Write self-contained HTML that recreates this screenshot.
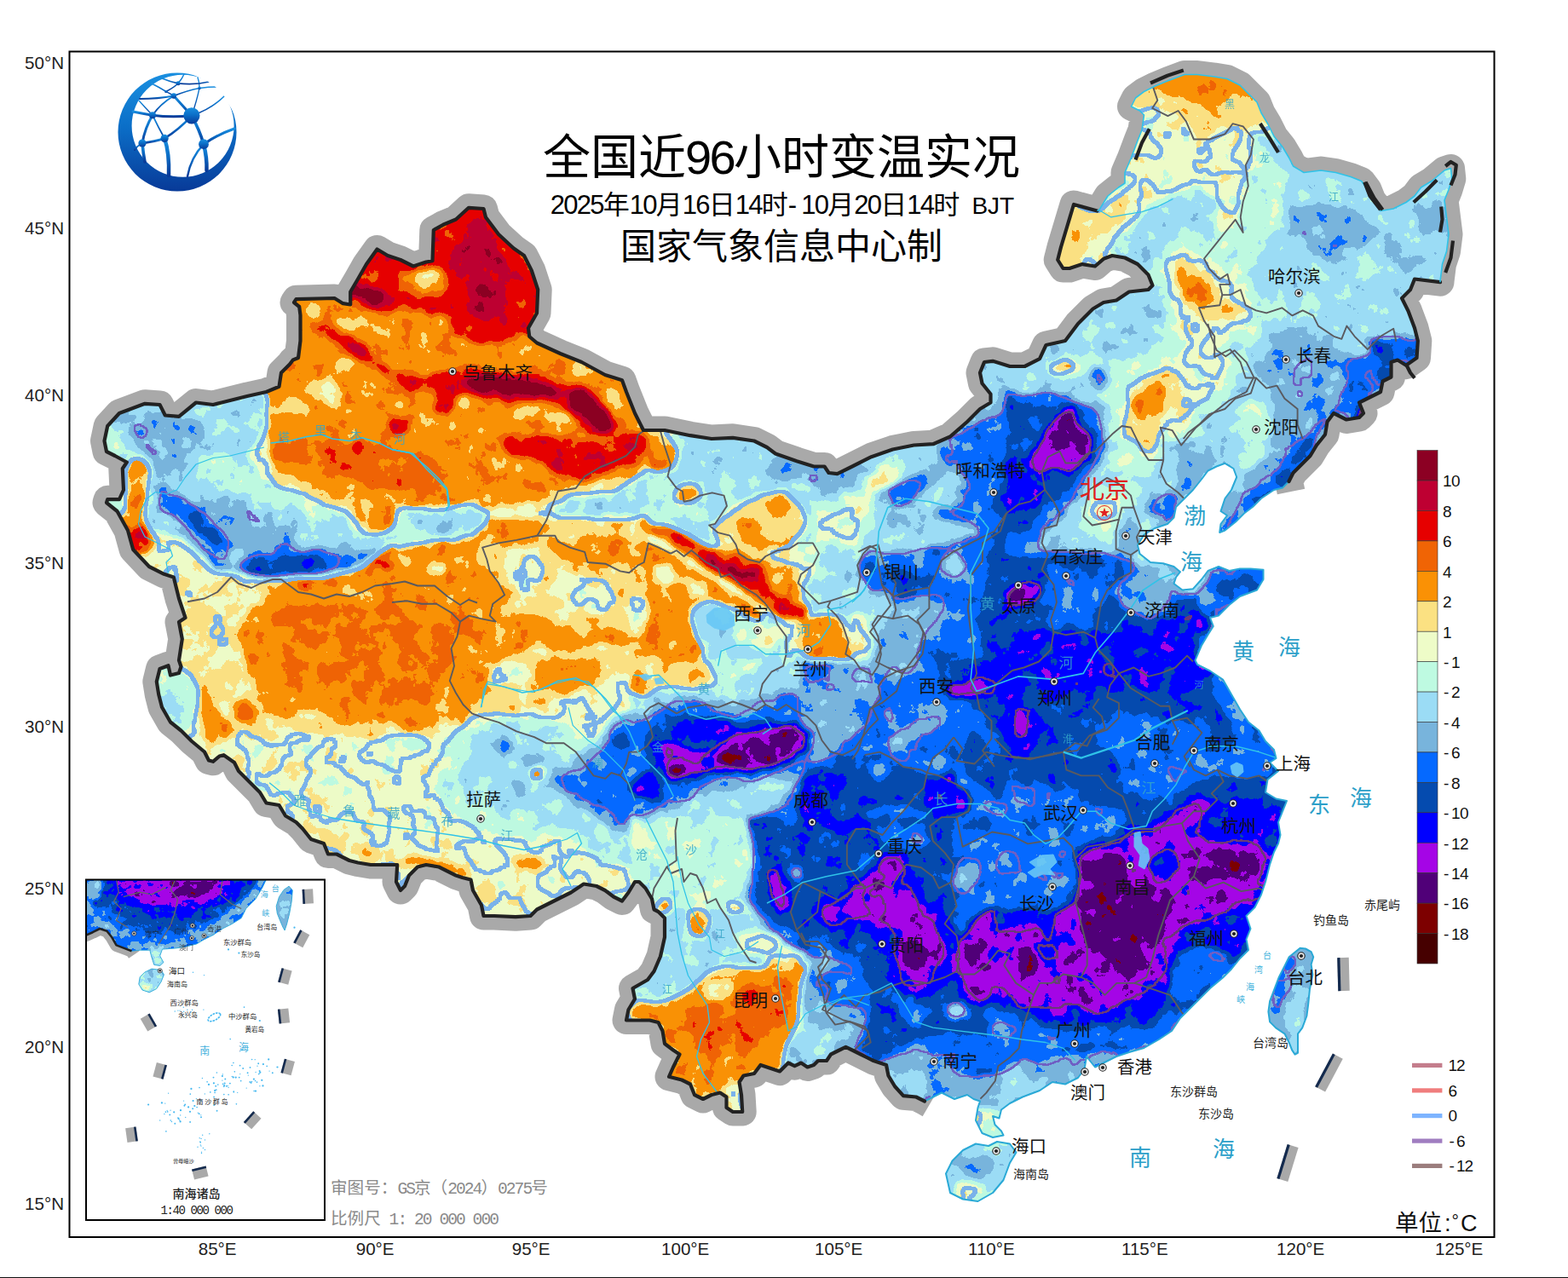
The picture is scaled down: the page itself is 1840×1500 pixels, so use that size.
<!DOCTYPE html><html><head><meta charset="utf-8"><title>map</title><style>html,body{margin:0;padding:0;background:#fff}body{width:1840px;height:1500px;overflow:hidden;font-family:"Liberation Sans","Noto Sans CJK SC",sans-serif}svg{display:block}text{font-family:"Liberation Sans","Noto Sans CJK SC",sans-serif}text.mono{font-family:"Liberation Mono","Noto Sans CJK SC",monospace}</style></head><body><svg width="1840" height="1500" viewBox="0 0 1840 1500"><defs><g id="fp" fill="currentColor" stroke="currentColor" stroke-linejoin="round"><polygon points="540,840 590,845 640,840 690,820 740,815 765,810 815,810 865,795 890,780 915,760 920,730 910,715 1000,705 1000,995 540,995" color="#808080"/><polygon points="540,620 1000,620 1000,705 910,715 920,730 915,760 890,780 865,795 815,810 765,810 740,815 690,820 640,840 590,845 540,840" color="#acacac"/><polygon points="590,645 630,640 640,670 635,705 615,700 595,670" color="#9e9e9e"/><polygon points="645,680 680,670 715,685 730,710 700,725 665,715 645,700" color="#9e9e9e"/><polygon points="735,695 765,700 770,725 745,735 735,720" color="#9e9e9e"/><polygon points="815,705 865,700 905,720 915,750 890,775 865,790 840,805 830,770 815,740" color="#8e8e8e"/><polygon points="575,760 615,770 645,780 635,795 600,790 575,780" color="#9e9e9e"/><polygon points="680,645 715,640 740,655 715,665 680,660" color="#9e9e9e"/><polygon points="540,620 630,620 665,635 715,630 760,635 780,655 765,670 740,660 700,670 665,655 640,640 590,640 540,645" color="#bcbcbc"/><polygon points="540,655 565,660 585,685 575,720 540,730" color="#bcbcbc"/><polygon points="540,730 575,725 615,720 650,730 690,745 730,750 765,745 805,750 815,770 790,780 755,770 715,775 680,765 640,755 600,750 565,760 540,760" color="#bcbcbc"/><polygon points="540,795 565,785 600,800 640,805 680,800 700,810 680,820 640,820 600,815 565,815 540,820" color="#bcbcbc"/><polygon points="725,790 755,790 770,810 755,820 735,810" color="#bcbcbc"/><polygon points="780,635 815,640 840,670 865,690 850,695 815,675 790,660" color="#bcbcbc"/><polygon points="680,750 715,745 730,760 700,767.5" color="#cacaca"/><polygon points="775,620 815,620 840,640 870,650 895,665 915,690 940,710 950,725 940,730 915,720 890,700 865,685 840,670 815,650 790,635" color="#cacaca"/><polygon points="785,625 810,630 835,650 865,660 890,670 900,690 930,715 920,720 895,700 870,685 840,665 815,645 790,632.5" color="#dadada"/><polygon points="825,647.5 850,660 875,667.5 890,675 885,685 860,680 835,662.5" color="#f8f8f8"/><polygon points="895,645 930,640 955,645 960,670 940,695 915,685 900,665" color="#9e9e9e"/><polygon points="965,645 1000,635 1000,705 965,705 950,685" color="#808080"/><polygon points="930,725 970,715 1000,725 1000,775 975,785 940,780 925,755" color="#acacac"/><polygon points="940,730 965,725 990,730 995,760 975,775 950,770 935,750" color="#bcbcbc"/><polygon points="540,840 590,845 640,840 680,830 700,845 680,865 640,870 615,860 565,860 540,855" color="#8e8e8e"/><polygon points="580,870 615,865 625,880 590,885" color="#707070"/><polygon points="610,910 645,905 665,920 640,935 615,930" color="#707070"/><polygon points="660,875 680,870 685,885 665,890" color="#707070"/><circle cx="628.8" cy="905" r="7" color="#bcbcbc"/><polygon points="565,955 600,945 615,955 590,970 565,975" color="#9e9e9e"/><polygon points="540,965 680,975 680,995 540,995" color="#8e8e8e"/><polygon points="650,910 680,895 715,875 730,855 765,830 790,820 830,820 865,825 915,810 950,810 1000,815 1000,895 965,895 940,920 900,915 865,925 825,930 800,945 765,955 730,970 700,955 680,935" color="#707070"/><polygon points="910,820 930,810 950,815 965,830 1000,820 1000,885 975,880 965,845 940,825" color="#626262"/><polygon points="680,910 700,905 720,880 740,855 765,840 790,825 815,820 840,835 865,840 915,820 950,815 965,845 960,875 940,895 910,905 890,915 865,910 825,920 805,940 780,945 760,955 735,965 715,950 695,935" color="#626262"/><polygon points="760,855 785,840 805,830 815,845 840,845 865,850 890,845 930,845 955,860 950,880 930,895 890,905 840,910 790,920 770,905 755,880" color="#525252"/><polygon points="800,845 815,840 855,845 865,860 840,870 805,870 785,860" color="#444444"/><polygon points="745,910 765,905 780,920 775,940 755,940 740,925" color="#444444"/><polygon points="775,870 790,870 815,885 840,875 865,860 890,855 930,850 945,860 950,875 930,890 905,900 880,905 855,902.5 830,907.5 805,912.5 785,915 777.5,895" color="#343434"/><polygon points="840,885 865,870 890,865 930,857.5 940,870 925,885 900,895 865,897.5 840,895" color="#262626"/><polygon points="785,900 805,897.5 805,907.5 787.5,910" color="#161616"/><polygon points="845,882.5 875,885 875,892.5 847.5,890" color="#161616"/><polygon points="890,955 915,945 930,920 965,900 1000,890 1000,995 885,995 885,970" color="#626262"/><polygon points="940,945 965,920 1000,905 1000,995 930,995" color="#525252"/><polygon points="965,945 1000,930 1000,995 955,995" color="#444444"/><polygon points="940,700 1400,700 1400,1075 940,1075" color="#626262"/><polygon points="1140,860 1165,875 1190,890 1240,890 1290,880 1315,890 1330,925 1315,950 1290,940 1265,925 1215,920 1190,940 1165,930 1140,915 1125,890" color="#525252"/><polygon points="1100,750 1140,740 1165,725 1190,700 1400,700 1400,825 1365,830 1330,825 1300,825 1290,850 1265,875 1240,890 1190,890 1165,875 1155,840 1140,825 1115,820 1100,800" color="#525252"/><polygon points="965,890 1015,885 1065,900 1090,915 1115,925 1140,940 1130,965 1100,965 1080,950 1040,940 1015,950 990,975 965,990 940,1000 940,925" color="#525252"/><polygon points="940,1000 990,995 1040,1000 1080,1010 1115,1025 1130,1050 1130,1075 940,1075" color="#525252"/><polygon points="1250,1000 1290,975 1330,965 1365,950 1400,935 1400,1075 1255,1075 1265,1025" color="#525252"/><polygon points="1140,750 1165,730 1190,700 1330,700 1315,725 1290,750 1265,775 1280,800 1265,820 1225,840 1215,875 1190,885 1175,860 1165,825 1145,815 1135,780" color="#444444"/><polygon points="1330,750 1400,730 1400,805 1365,810 1340,795" color="#444444"/><polygon points="1080,910 1115,915 1140,930 1135,950 1105,960 1085,945" color="#444444"/><polygon points="940,915 965,900 990,915 980,950 955,975 940,975" color="#444444"/><polygon points="990,1015 1040,1010 1080,1020 1115,1035 1125,1060 1090,1075 965,1075 965,1040" color="#444444"/><polygon points="1260,1010 1290,985 1330,975 1365,960 1400,945 1400,1075 1260,1075" color="#444444"/><polygon points="1225,740 1265,740 1275,760 1240,770 1220,760" color="#626262"/><polygon points="990,700 1050,700 1080,735 1080,775 1065,795 1035,800 1025,830 1015,850 990,875 975,890 955,895 940,875 940,805 965,795 980,775 990,750" color="#707070"/><polygon points="990,700 1047.5,700 1047.5,730 1025,750 1025,770 1005,775 990,750" color="#808080"/><polygon points="995,730 1022.5,725 1025,750 1005,765 995,750" color="#9e9e9e"/><polygon points="940,710 960,720 990,715 1000,735 995,765 970,775 945,765 940,755" color="#acacac"/><polygon points="940,715 955,725 985,720 995,735 990,760 970,770 950,760 940,750" color="#bcbcbc"/><polygon points="1060,855 1080,845 1110,840 1112.5,845 1090,860 1070,870 1050,875 1040,870" color="#707070"/><polygon points="1040,835 1047.5,830 1050,850 1042.5,860" color="#707070"/><polygon points="1020,895 1040,892.5 1045,907.5 1025,912.5" color="#707070"/><polygon points="1005,975 1025,970 1035,985 1015,995 1002.5,987.5" color="#707070"/><polygon points="1155,935 1180,945 1185,960 1165,955 1152.5,945" color="#707070"/><polygon points="1125,1010 1155,1005 1165,1020 1145,1030 1125,1025" color="#707070"/><polygon points="1112.5,805 1130,800 1145,795 1160,802.5 1167.5,807.5 1155,812.5 1135,817.5 1115,817.5" color="#343434"/><polygon points="1190,835 1200,832.5 1202.5,855 1195,862.5 1190,850" color="#343434"/><polygon points="1205,770 1215,767.5 1212.5,780 1205,782.5" color="#343434"/><polygon points="1105,910 1120,907.5 1122.5,917.5 1110,920" color="#343434"/><polygon points="940,855 950,860 950,880 940,885" color="#343434"/><polygon points="960,1040 990,1025 1025,1015 1050,1005 1060,1015 1050,1035 1065,1050 1085,1060 1080,1075 960,1075" color="#343434"/><polygon points="1265,1015 1290,995 1315,990 1330,1000 1350,980 1380,960 1400,950 1400,1075 1265,1075 1260,1045" color="#343434"/><polygon points="1150,1065 1170,1060 1175,1075 1145,1075" color="#343434"/><polygon points="990,1045 1025,1030 1045,1040 1060,1060 1055,1075 990,1075" color="#262626"/><polygon points="1275,1035 1300,1015 1330,1020 1365,1025 1400,1000 1400,1075 1270,1075" color="#262626"/><polygon points="1355,1055 1365,1052.5 1367.5,1062.5 1357.5,1065" color="#161616"/><polygon points="315,462.5 352.5,400 560,400 560,590 525,592.5 490,595 465,597.5 462.5,615 450,625 432.5,627.5 412.5,595 387.5,580 350,565 325,550 315,530 312.5,505 312.5,482.5" color="#bcbcbc"/><polygon points="350,517.5 412.5,517.5 450,535 490,535 512.5,560 522.5,585 475,585 450,575 425,560 387.5,555 362.5,540" color="#cacaca"/><polygon points="350,400 560,400 560,482.5 525,475 500,465 462.5,462.5 425,450 387.5,432.5 355,425" color="#cacaca"/><polygon points="412.5,400 560,400 560,465 525,462.5 490,450 462.5,430 425,420" color="#dadada"/><polygon points="495,425 525,415 560,425 560,455 535,457.5 510,447.5" color="#f8f8f8"/><polygon points="455,485 475,482.5 482.5,500 475,515 457.5,512.5 450,500" color="#dadada"/><polygon points="412.5,520 427.5,517.5 425,535 417.5,537.5" color="#dadada"/><polygon points="370,450 395,442.5 405,457.5 395,472.5 375,470" color="#aaaaaa"/><polygon points="320,467.5 350,472.5 375,467.5 380,477.5 350,482.5 320,477.5" color="#acacac"/><polygon points="290,535 312.5,505 315,530 325,550 350,565 387.5,580 412.5,595 432.5,627.5 425,632.5 405,607.5 375,590 337.5,575 305,560" color="#9e9e9e"/><polygon points="127.5,500 140,486.2 170,475 187.5,476.2 193.8,488.8 210,490 230,473.8 260,473.8 290,466.2 312.5,461.2 312.5,505 290,535 305,560 337.5,575 375,590 405,607.5 425,632.5 450,630 470,625 445,650 412.5,670 375,677.5 325,680 287.5,675 260,665 240,640 210,620 182.5,615 170,595 175,562.5 162.5,540 145,517.5" color="#808080"/><polygon points="230,540 275,530 290,540 300,562.5 325,575 362.5,590 387.5,600 397.5,615 375,610 337.5,595 300,585 275,575 250,560" color="#8e8e8e"/><polygon points="142.5,490 175,482.5 195,492.5 215,495 235,490 240,510 225,530 207.5,540 200,560 185,560 175,540 157.5,520" color="#707070"/><polygon points="240,585 290,585 295,600 315,605 340,620 350,640 400,640 420,650 445,647.5 425,665 400,672.5 410,655 375,640 345,650 335,630 320,650 285,650 270,640 260,620 235,600" color="#707070"/><polygon points="185,572.5 192.5,567.5 200,580 212.5,580 232.5,595 250,615 265,630 272.5,642.5 265,657.5 275,667.5 265,667.5 250,647.5 235,632.5 217.5,617.5 200,605 185,600" color="#626262"/><polygon points="282.5,655 300,650 320,650 335,630 345,650 360,650 375,640 407.5,652.5 410,660 400,670 375,677.5 340,677.5 310,680 290,675 275,667.5" color="#626262"/><polygon points="220,597.5 240,612.5 255,625 260,637.5 250,637.5 230,622.5 217.5,607.5" color="#525252"/><polygon points="285,660 307.5,655 325,657.5 335,645 350,657.5 375,650 382.5,660 375,672.5 340,673.8 315,677.5 290,672.5" color="#525252"/><circle cx="362.5" cy="662.5" r="8.8" color="#444444"/><polygon points="420,647.5 440,643.8 445,650 432.5,657.5 420,653.8" color="#626262"/><polygon points="155,500 170,500 172.5,510 160,515" color="#626262"/><polygon points="152.5,540 165,535 177.5,550 175,562.5 162.5,570 165,590 160,600 162.5,625 170,640 162.5,642.5 152.5,625 147.5,605 150,575 147.5,555" color="#bcbcbc"/><polygon points="153.8,620 165,625 165,637.5 156.2,637.5" color="#dadada"/><polygon points="127.5,505 145,520 152.5,540 147.5,555 150,575 137.5,595 127.5,587.5 145,575 143.8,550 125,530" color="#8e8e8e"/><polygon points="210,682.5 275,680 315,685 310,707.5 275,700 255,715 240,737.5 255,762.5 240,775 212.5,775 212.5,725 205,700" color="#a5a5a5"/><polygon points="315,682.5 350,680 375,682.5 425,670 450,657.5 475,640 525,635 560,637.5 560,775 260,775 275,750 300,725 312.5,710" color="#bcbcbc"/><polygon points="325,712.5 375,700 425,712.5 475,700 525,712.5 560,725 560,775 325,775 312.5,750" color="#c3c3c3"/><polygon points="350,681.2 362.5,682.5 360,692.5 350,690" color="#dadada"/><polygon points="445,660 460,657.5 462.5,667.5 447.5,670" color="#dadada"/><polygon points="500,660 525,665 520,675 500,672.5" color="#9e9e9e"/><polygon points="465,597.5 490,595 525,592.5 560,587.5 560,630 525,635 490,637.5 475,640 470,625 462.5,615" color="#8e8e8e"/><polygon points="485,607.5 525,600 560,597.5 560,620 525,625 495,632.5" color="#808080"/><polygon points="510,620 535,612.5 540,617.5 515,625" color="#707070"/><polygon points="320,457.5 352.5,395 347.5,351.2 411.2,357.5 442.5,292.5 507.5,306.2 508.8,270 550,243.8 570,255 631.2,340 620,390 730,446.2 755,505 780,505 780,575 655,575 520,595 320,595" color="#bcbcbc"/><polygon points="320,520 370,515 420,517.5 460,527.5 495,532.5 520,552.5 525,575 495,580 445,570 395,557.5 345,545 320,542.5" color="#cacaca"/><polygon points="415,340 442.5,295 507.5,307.5 510,270 550,245 570,255 630,340 620,390 595,400 560,405 535,395 520,370 495,367.5 470,360 455,370 425,360" color="#dadada"/><polygon points="527.5,302.5 545,270 560,252.5 570,265 585,282.5 595,320 592.5,365 570,375 545,360 540,327.5" color="#e8e8e8"/><polygon points="415,340 430,335 450,345 455,357.5 440,360 420,352.5" color="#f8f8f8"/><polygon points="470,320 520,315 525,340 495,350 470,340" color="#bcbcbc"/><polygon points="490,317.5 510,315 515,330 500,337.5 487.5,332.5" color="#aaaaaa"/><polygon points="387.5,362.5 405,375 425,372.5 430,380 412.5,392.5 397.5,382.5" color="#aaaaaa"/><polygon points="365,375 385,382.5 415,400 435,417.5 460,432.5 455,440 430,430 405,412.5 380,395 362.5,385" color="#dadada"/><polygon points="410,395 430,407.5 435,420 420,417.5 407.5,405" color="#e8e8e8"/><polygon points="365,450 390,445 405,460 395,475 370,472.5 360,460" color="#aaaaaa"/><polygon points="320,470 350,470 370,475 357.5,485 320,485" color="#aaaaaa"/><polygon points="395,420 410,417.5 415,427.5 400,432.5" color="#aaaaaa"/><polygon points="460,390 520,385 527.5,405 515,425 475,427.5 462.5,410" color="#bcbcbc"/><polygon points="460,435 495,440 525,435 545,427.5 570,435 595,437.5 632.5,440 670,450 695,460 715,480 725,505 710,515 690,510 670,490 655,477.5 630,472.5 595,472.5 570,467.5 545,462.5 525,467.5 510,460 480,460 465,450" color="#dadada"/><polygon points="545,445 570,440 595,442.5 627.5,445 652.5,455 657.5,467.5 632.5,465 600,466.2 570,460 550,455" color="#f8f8f8"/><polygon points="667.5,460 682.5,455 700,467.5 715,485 720,502.5 705,507.5 690,495 670,480 665,470" color="#f8f8f8"/><polygon points="510,460 532.5,455 537.5,470 527.5,485 512.5,482.5" color="#dadada"/><polygon points="590,510 632.5,512.5 650,510 682.5,515 710,517.5 732.5,507.5 755,507.5 760,527.5 745,545 720,550 695,565 670,560 645,552.5 632.5,540 595,535 587.5,520" color="#dadada"/><polygon points="725,515 745,510 755,520 740,532.5 725,527.5" color="#e8e8e8"/><polygon points="680,530 700,537.5 695,547.5 680,542.5" color="#e8e8e8"/><polygon points="632.5,485 670,485 675,495 645,497.5" color="#aaaaaa"/><polygon points="602.5,482.5 620,480 625,490 607.5,492.5" color="#aaaaaa"/><polygon points="665,427.5 680,425 685,437.5 672.5,442.5" color="#aaaaaa"/><polygon points="707.5,452.5 720,450 725,467.5 712.5,467.5" color="#aaaaaa"/><polygon points="535,467.5 545,465 550,480 540,482.5" color="#acacac"/><polygon points="460,490 480,490 480,507.5 467.5,515 457.5,505" color="#dadada"/><polygon points="415,517.5 425,520 422.5,540 417.5,537.5" color="#dadada"/><polygon points="320,552.5 345,560 382.5,577.5 415,595 320,595" color="#acacac"/><polygon points="320,570 345,575 375,590 385,595 320,595" color="#8e8e8e"/><polygon points="655,575 682.5,570 720,565 745,552.5 760,540 780,532.5 780,595 652.5,595" color="#aaaaaa"/><polygon points="665,585 720,580 755,557.5 780,545 780,595 660,595" color="#808080"/><polygon points="760,503.8 900,525 972.5,555 1047.5,527.5 1115,512.5 1162.5,472.5 1152.5,450 1155,425 1220,421.2 1220,775 760,775" color="#808080"/><polygon points="900,530 935,542.5 972.5,556.2 1010,545 1022.5,550 1000,570 985,580 960,575 935,565 910,565 895,560 900,545" color="#707070"/><polygon points="950,555 960,555 960,570 952.5,570" color="#626262"/><polygon points="950,590 1010,575 1035,540 1060,540 1062.5,562.5 1035,585 1022.5,625 1010,650 997.5,700 965,700 960,650 950,625" color="#8e8e8e"/><polygon points="960,605 985,600 1010,585 1020,565 1035,545 1055,547.5 1055,560 1035,575 1025,590 1010,612.5 1005,640 985,630 965,625 955,615" color="#9e9e9e"/><polygon points="970,640 997.5,640 1005,670 995,695 970,695 965,665" color="#808080"/><polygon points="1025,580 1060,560 1110,540 1135,525 1150,495 1165,475 1170,450 1185,437.5 1220,430 1220,500 1185,505 1150,520 1135,540 1110,555 1085,575 1060,590 1035,600" color="#707070"/><polygon points="1095,525 1150,492.5 1185,482.5 1220,457.5 1220,775 1075,775 1080,750 1097.5,735 1110,710 1085,700 1047.5,707.5 1042.5,695 1020,692.5 1007.5,672.5 1010,655 1025,645 1035,650 1072.5,645 1097.5,640 1125,632.5 1150,625 1135,615 1110,610 1092.5,605 1115,595 1130,585 1125,575 1135,565 1120,555 1105,540" color="#626262"/><polygon points="1010,660 1022.5,650 1030,665 1025,675 1012.5,672.5" color="#525252"/><polygon points="1047.5,670 1085,675 1092.5,695 1060,702.5 1047.5,690" color="#525252"/><polygon points="1185,487.5 1220,465 1220,775 1150,775 1145,725 1160,675 1172.5,625 1165,590 1175,550 1185,520" color="#525252"/><polygon points="1200,550 1220,540 1220,775 1185,775 1175,725 1190,675 1200,625 1195,575" color="#444444"/><polygon points="1205,540 1220,525 1220,570 1210,562.5" color="#343434"/><polygon points="1185,690 1220,680 1220,710 1195,712.5 1182.5,700" color="#343434"/><polygon points="1195,692.5 1220,687.5 1220,705 1200,707.5" color="#262626"/><polygon points="1032.5,585 1060,575 1092.5,580 1092.5,605 1115,612.5 1150,625 1122.5,632.5 1097.5,637.5 1072.5,642.5 1035,647.5 1030,625" color="#808080"/><polygon points="1040,605 1065,600 1070,620 1050,625" color="#707070"/><polygon points="1042.5,575 1055,570 1075,565 1080,575 1065,595 1047.5,597.5 1042.5,587.5" color="#626262"/><polygon points="1095,600 1122.5,590 1145,592.5 1155,607.5 1150,617.5 1125,612.5 1110,612.5" color="#626262"/><polygon points="1107.5,652.5 1122.5,647.5 1135,665 1120,677.5 1107.5,670" color="#808080"/><polygon points="1050,707.5 1085,702.5 1110,712.5 1095,735 1077.5,750 1072.5,775 1035,775 1030,750 1042.5,725" color="#707070"/><polygon points="1000,700 1035,695 1047.5,710 1040,725 1030,750 1035,775 997.5,775 992.5,737.5" color="#808080"/><polygon points="995,720 1010,717.5 1025,750 1020,775 1000,775" color="#9e9e9e"/><polygon points="760,507.5 785,512.5 797.5,530 790,550 775,555 760,550" color="#bcbcbc"/><polygon points="765,542.5 775,545 772.5,552.5 765,550" color="#dadada"/><polygon points="760,560 785,560 825,565 835,590 830,612.5 797.5,610 760,600" color="#8e8e8e"/><polygon points="792.5,572.5 815,567.5 822.5,580 810,590 792.5,587.5" color="#bcbcbc"/><polygon points="832.5,617.5 860,595 890,580 920,575 935,590 950,607.5 945,625 930,640 935,650 950,640 960,650 955,675 940,690 945,720 935,730 910,710 895,695 880,675 860,655 842.5,640" color="#acacac"/><polygon points="895,582.5 920,580 930,595 915,607.5 900,600" color="#bcbcbc"/><polygon points="865,607.5 890,612.5 900,630 915,640 900,650 880,640 865,625" color="#bcbcbc"/><polygon points="895,645 935,640 957.5,637.5 960,655 945,675 935,662.5 910,660 900,652.5" color="#9e9e9e"/><polygon points="760,635 785,645 822.5,670 860,692.5 885,710 900,725 885,730 860,712.5 847.5,725 835,750 822.5,775 760,775" color="#bcbcbc"/><polygon points="760,615 785,617.5 810,630 830,642.5 870,647.5 900,665 910,695 950,710 947.5,730 920,730 895,712.5 860,687.5 822.5,665 785,640 760,625" color="#cacaca"/><polygon points="780,620 800,625 825,645 845,650 865,650 885,662.5 900,670 900,687.5 910,700 930,710 945,715 945,725 925,725 905,712.5 885,695 865,682.5 845,670 825,660 800,640" color="#dadada"/><polygon points="830,652.5 845,660 870,670 890,665 890,677.5 875,682.5 855,675 835,665" color="#f8f8f8"/><polygon points="905,665 930,670 945,700 935,710 920,695 910,682.5" color="#bcbcbc"/><polygon points="767.5,662.5 785,660 795,680 780,690 767.5,680" color="#9e9e9e"/><polygon points="805,682.5 825,685 830,700 810,702.5" color="#9e9e9e"/><polygon points="815,710 835,705 860,715 890,730 910,725 920,735 910,755 915,775 835,775 820,750 810,725" color="#808080"/><polygon points="860,732.5 910,732.5 920,750 900,762.5 865,755" color="#9e9e9e"/><polygon points="915,725 940,725 945,750 930,775 920,775" color="#9e9e9e"/><polygon points="935,730 960,720 990,722.5 997.5,750 1002.5,775 945,775 935,755" color="#acacac"/><polygon points="940,735 960,725 985,727.5 992.5,750 997.5,775 950,775 940,755" color="#bcbcbc"/><polygon points="1200,435 1200,410 1350,335 1300,297.5 1242.5,310 1260,240 1320,210 1340,135 1330,120 1390,87.5 1450,97.5 1517.5,195 1600,215 1660,230 1660,435" color="#808080"/><polygon points="1260,240 1290,246.2 1320,210 1340,135 1330,120 1355,102.5 1390,87.5 1450,97.5 1495,160 1515,192.5 1487.5,215 1465,235 1455,260 1425,235 1400,220 1375,230 1350,240 1335,260 1315,280 1300,297.5 1285,310 1250,315 1242.5,305" color="#9e9e9e"/><polygon points="1330,120 1355,102.5 1390,87.5 1425,90 1455,100 1475,120 1487.5,145 1475,150 1450,145 1440,150 1415,162.5 1400,160 1390,135 1370,130 1350,122.5 1340,130" color="#acacac"/><polygon points="1360,100 1390,88.8 1425,91.2 1455,102.5 1465,115 1445,110 1435,120 1440,142.5 1425,145 1420,130 1405,120 1390,117.5 1375,117.5 1365,107.5" color="#bcbcbc"/><polygon points="1260,240 1287.5,247.5 1310,232.5 1325,235 1320,260 1300,265 1285,280 1275,300 1262.5,310 1250,313.8 1242.5,305 1250,275" color="#acacac"/><polygon points="1465,240 1487.5,220 1512.5,210 1520,230 1500,250 1487.5,285 1475,310 1450,322.5 1437.5,310 1450,280" color="#8e8e8e"/><polygon points="1365,310 1400,300 1425,310 1445,330 1475,360 1472.5,385 1445,405 1425,410 1407.5,395 1390,375 1370,350" color="#9e9e9e"/><polygon points="1372.5,317.5 1395,310 1415,320 1432.5,335 1450,355 1467.5,365 1465,382.5 1440,390 1420,395 1405,380 1390,360 1375,340" color="#acacac"/><polygon points="1375,320 1395,315 1407.5,330 1415,350 1425,360 1415,362.5 1400,355 1385,340" color="#bcbcbc"/><polygon points="1510,250 1530,240 1575,235 1595,250 1610,275 1600,300 1585,310 1560,305 1540,290 1520,275" color="#707070"/><polygon points="1590,330 1625,322.5 1645,347.5 1625,360 1600,350" color="#707070"/><polygon points="1555,285 1575,282.5 1575,292.5 1557.5,292.5" color="#626262"/><polygon points="1470,330 1512.5,325 1532.5,342.5 1520,360 1495,355 1475,347.5" color="#8e8e8e"/><polygon points="1340,410 1400,400 1420,420 1425,435 1335,435" color="#9e9e9e"/><polygon points="1355,415 1390,410 1407.5,420 1410,435 1350,435" color="#acacac"/><polygon points="1310,382.5 1330,380 1330,395 1312.5,395" color="#707070"/><polygon points="1225,420 1250,415 1260,435 1225,435" color="#9e9e9e"/><polygon points="1570,385 1590,380 1625,395 1660,392.5 1660,435 1570,435" color="#707070"/><polygon points="1575,420 1590,417.5 1595,435 1575,435" color="#626262"/><polygon points="1625,400 1660,397.5 1660,425 1635,425" color="#626262"/><polygon points="1645,410 1660,407.5 1660,422.5 1647.5,422.5" color="#525252"/><polygon points="1455,160 1497.5,160 1530,197.5 1600,220 1617.5,247.5 1667.5,220 1702.5,197.5 1697.5,295 1690,331.2 1660,327.5 1645,350 1663.8,400 1662.5,420 1620,460 1580,492.5 1537.5,535 1380,535 1380,510 1455,460 1465,370 1430,310" color="#808080"/><polygon points="1510,245 1530,240 1555,237.5 1585,242.5 1605,260 1612.5,275 1600,290 1585,305 1565,310 1545,300 1530,285 1520,265" color="#707070"/><polygon points="1555,282.5 1577.5,282.5 1572.5,292.5 1557.5,290" color="#626262"/><polygon points="1660,235 1692.5,230 1695,272.5 1680,280 1662.5,265" color="#707070"/><polygon points="1630,285 1655,290 1670,310 1650,320 1630,305" color="#707070"/><polygon points="1480,400 1510,385 1540,380 1565,395 1575,420 1555,445 1535,460 1510,460 1490,440 1475,420" color="#707070"/><polygon points="1520,350 1540,345 1555,360 1545,375 1525,370" color="#8e8e8e"/><polygon points="1590,300 1615,300 1620,320 1600,325" color="#8e8e8e"/><polygon points="1380,310 1415,310 1430,335 1455,350 1467.5,367.5 1455,385 1430,400 1430,410 1445,420 1462.5,440 1455,460 1430,480 1405,492.5 1380,510" color="#9e9e9e"/><polygon points="1380,315 1405,315 1420,335 1445,355 1465,367.5 1450,380 1425,385 1415,400 1395,400 1380,385" color="#acacac"/><polygon points="1380,320 1400,320 1412.5,340 1405,355 1380,350" color="#bcbcbc"/><polygon points="1380,430 1390,435 1392.5,450 1380,455" color="#acacac"/><polygon points="1380,510 1405,492.5 1430,482.5 1455,485 1465,510 1455,535 1380,535" color="#8e8e8e"/><polygon points="1520,470 1540,460 1550,480 1535,495 1520,490" color="#9e9e9e"/><polygon points="1565,410 1590,400 1620,395 1642.5,390 1662.5,397.5 1620,460 1570,497.5 1540,535 1490,535 1495,520 1540,500 1555,460 1565,435" color="#707070"/><polygon points="1572.5,417.5 1582.5,412.5 1595,425 1610,435 1620,447.5 1605,467.5 1595,472.5 1580,492.5 1565,485 1555,510 1540,530 1505,535 1500,525 1520,517.5 1545,505 1555,482.5 1580,477.5 1590,460 1595,447.5 1580,445 1572.5,432.5" color="#626262"/><polygon points="1622.5,400 1640,395 1662.5,400 1662.5,420 1650,427.5 1640,422.5 1630,422.5 1623.8,412.5" color="#626262"/><polygon points="1645,407.5 1660,405 1660,420 1650,425" color="#525252"/><polygon points="1577.5,425 1587.5,427.5 1587.5,440 1577.5,437.5" color="#525252"/><polygon points="1587.5,477.5 1597.5,475 1600,487.5 1590,490" color="#343434"/><polygon points="1505,527.5 1520,522.5 1525,535 1505,535" color="#525252"/><polygon points="1180,430 1230,415 1355,400 1640,400 1640,443.8 1530,542.5 1430,625 1450,550 1380,595 1335,640 1380,675 1482.5,668.8 1402.5,775 1180,775" color="#808080"/><polygon points="1225,420 1280,415 1320,425 1355,400 1455,400 1460,440 1430,475 1405,500 1370,520 1365,540 1335,560 1310,575 1290,560 1300,505 1310,475 1290,470 1275,440 1230,445" color="#8e8e8e"/><polygon points="1355,410 1420,400 1455,410 1455,440 1420,465 1390,490 1375,485 1385,460 1370,440 1350,430" color="#9e9e9e"/><polygon points="1315,455 1335,440 1355,415 1385,415 1400,430 1390,455 1370,475 1365,500 1355,535 1340,535 1330,510 1320,500 1315,475" color="#acacac"/><polygon points="1315,457.5 1340,455 1355,440 1375,437.5 1385,450 1365,465 1355,482.5 1360,505 1350,525 1335,515 1330,495 1320,480" color="#bcbcbc"/><polygon points="1230,430 1255,422.5 1265,432.5 1245,440 1230,437.5" color="#acacac"/><polygon points="1277.5,437.5 1287.5,430 1300,437.5 1302.5,452.5 1292.5,462.5 1282.5,457.5" color="#626262"/><polygon points="1180,457.5 1205,462.5 1235,457.5 1262.5,470 1285,475 1295,500 1300,525 1285,550 1270,575 1255,595 1240,615 1225,625 1215,645 1240,645 1280,647.5 1310,650 1330,655 1340,670 1315,680 1305,695 1320,712.5 1350,725 1380,700 1405,695 1420,675 1430,665 1482.5,668.8 1482.5,682.5 1430,722.5 1402.5,775 1180,775" color="#626262"/><polygon points="1180,470 1210,475 1245,472.5 1275,485 1290,510 1280,540 1260,565 1245,590 1220,600 1205,625 1180,630" color="#525252"/><polygon points="1180,550 1205,555 1230,575 1217.5,595 1195,600 1180,595" color="#444444"/><polygon points="1180,650 1225,650 1305,655 1320,675 1305,695 1320,715 1355,727.5 1385,705 1430,697.5 1455,700 1430,722.5 1402.5,775 1180,775" color="#525252"/><polygon points="1320,732.5 1355,735 1395,715 1425,707.5 1440,712.5 1420,725 1402.5,775 1340,775 1330,750" color="#444444"/><polygon points="1230,662.5 1295,670 1295,700 1280,737.5 1255,762.5 1230,750 1222.5,700" color="#626262"/><polygon points="1205,540 1220,520 1230,500 1245,482.5 1260,477.5 1265,495 1280,510 1282.5,530 1270,545 1255,555 1235,550 1220,560 1207.5,555" color="#343434"/><polygon points="1230,510 1242.5,490 1257.5,485 1262.5,500 1277.5,515 1275,530 1260,535 1245,530 1235,525" color="#262626"/><polygon points="1180,695 1200,682.5 1220,685 1225,697.5 1210,707.5 1190,715 1180,712.5" color="#343434"/><polygon points="1185,697.5 1200,690 1212.5,695 1200,705 1185,707.5" color="#262626"/><polygon points="1255,600 1265,585 1290,560 1320,550 1340,540 1370,540 1380,575 1355,600 1330,615 1335,640 1320,645 1280,640 1245,640 1225,640 1225,622.5 1245,615" color="#808080"/><polygon points="1270,595 1290,570 1320,555 1340,550 1355,560 1340,585 1320,605 1310,625 1280,630 1265,615" color="#8e8e8e"/><polygon points="1280,590 1310,585 1315,605 1290,615 1275,605" color="#9e9e9e"/><polygon points="1310,620 1335,615 1340,640 1330,650 1310,647.5" color="#707070"/><polygon points="1310,685 1320,677.5 1340,670 1355,665 1377.5,665 1385,675 1377.5,687.5 1387.5,695 1375,705 1355,722.5 1325,712.5 1307.5,695" color="#707070"/><polygon points="1355,580 1375,575 1385,585 1370,605 1355,610 1345,600" color="#626262"/><polygon points="1385,520 1405,510 1420,525 1430,545 1415,555 1400,575 1385,585 1380,555" color="#707070"/><polygon points="1470,430 1505,400 1555,400 1590,415 1595,450 1570,480 1540,520 1505,530 1490,510 1500,475 1475,450" color="#707070"/><polygon points="1455,475 1480,470 1495,500 1480,530 1465,550 1455,540 1460,510" color="#8e8e8e"/><polygon points="1455,560 1480,540 1505,525 1530,515 1525,535 1505,555 1480,570 1460,590 1445,600 1440,590" color="#707070"/><polygon points="1640,400 1640,443.8 1622.5,453.8 1602.5,470 1592.5,490 1567.5,486.2 1547.5,512.5 1530,542.5 1512.5,565 1480,585 1450,612.5 1432.5,623.8 1440,607.5 1460,585 1480,565 1500,550 1515,530 1535,510 1550,490 1570,475 1580,450 1575,425 1605,415 1620,400" color="#626262"/><polygon points="1605,400 1640,400 1640,442.5 1622.5,452.5 1615,445 1620,425" color="#525252"/><polygon points="1525,525 1542.5,507.5 1537.5,530 1515,560 1492.5,575 1480,582.5 1495,562.5 1512.5,545" color="#525252"/><polygon points="1592.5,475 1602.5,472.5 1602.5,487.5 1595,490" color="#343434"/><polygon points="1405,695 1420,675 1430,665 1455,667.5 1482.5,668.8 1482.5,682.5 1455,700 1430,720 1415,725 1405,712.5" color="#626262"/><polygon points="1430,685 1455,675 1475,675 1470,692.5 1445,705 1430,700" color="#525252"/><polygon points="1180,740 1420,740 1400,775 1497.5,890 1510,940 1465,1115 1180,1115" color="#525252"/><polygon points="1180,740 1405,740 1400,775 1420,790 1405,805 1380,822.5 1355,815 1330,805 1300,815 1280,805 1255,815 1230,825 1205,815 1180,822.5" color="#444444"/><polygon points="1180,825 1205,820 1225,840 1220,870 1205,890 1180,890" color="#444444"/><polygon points="1190,835 1200,832.5 1205,847.5 1202.5,862.5 1192.5,860" color="#343434"/><polygon points="1240,990 1265,985 1320,980 1355,960 1385,940 1405,930 1425,940 1430,965 1455,970 1480,980 1495,1000 1480,1050 1455,1055 1430,1055 1405,1065 1380,1070 1370,1115 1180,1115 1180,1065 1230,1052.5 1245,1027.5" color="#444444"/><polygon points="1430,940 1455,935 1480,940 1500,955 1500,980 1480,980 1455,970 1430,965" color="#444444"/><polygon points="1285,850 1305,835 1340,840 1370,845 1392.5,850 1410,865 1430,875 1455,875 1480,880 1495,890 1490,912.5 1455,915 1430,910 1405,915 1385,930 1355,940 1335,930 1315,915 1310,890 1290,875" color="#626262"/><polygon points="1180,915 1205,920 1225,920 1255,930 1285,940 1315,947.5 1325,965 1305,980 1275,990 1250,1005 1230,1025 1205,1030 1180,1015" color="#626262"/><polygon points="1430,800 1445,815 1465,847.5 1485,870 1495,890 1475,880 1450,860 1435,835 1425,815" color="#626262"/><polygon points="1180,1030 1205,1032.5 1230,1027.5 1250,1007.5 1260,1027.5 1255,1055 1230,1065 1205,1075 1180,1085" color="#525252"/><polygon points="1185,1035 1215,1037.5 1230,1050 1205,1065 1185,1065" color="#626262"/><polygon points="1385,1065 1405,1060 1430,1055 1455,1060 1472.5,1065 1465,1090 1465,1115 1375,1115 1380,1090" color="#525252"/><polygon points="1405,1065 1430,1062.5 1445,1080 1430,1100 1410,1095" color="#626262"/><polygon points="1265,1005 1290,995 1320,990 1330,980 1355,972.5 1370,965 1390,950 1405,940 1415,947.5 1405,965 1385,977.5 1405,985 1430,990 1455,985 1475,992.5 1487.5,1005 1480,1025 1470,1040 1450,1045 1430,1040 1420,1055 1405,1045 1385,1040 1375,1055 1365,1075 1360,1095 1355,1115 1180,1115 1180,1095 1200,1080 1220,1075 1230,1090 1250,1085 1260,1060 1262.5,1030" color="#343434"/><polygon points="1350,1010 1370,995 1385,1005 1380,1025 1365,1040 1350,1035" color="#444444"/><polygon points="1270,1015 1300,1000 1320,1005 1325,1030 1335,1050 1355,1047.5 1365,1065 1355,1095 1350,1115 1265,1115 1262.5,1065" color="#262626"/><polygon points="1385,1005 1405,995 1430,1000 1450,992.5 1470,1002.5 1475,1020 1455,1035 1430,1030 1410,1035 1395,1022.5" color="#262626"/><polygon points="1270,1077.5 1280,1075 1280,1090 1272.5,1090" color="#161616"/><polygon points="1445,1015 1452.5,1012.5 1452.5,1022.5 1445,1022.5" color="#161616"/><polygon points="1060,1040 1485,1040 1465,1115 1385,1195 1300,1245 1175,1302.5 1177.5,1332.5 1152.5,1330 1150,1292.5 1085,1292.5 1060,1286.2" color="#525252"/><polygon points="1060,1040 1485,1040 1470,1080 1450,1125 1420,1155 1385,1180 1350,1195 1310,1200 1275,1200 1235,1200 1200,1190 1170,1180 1135,1165 1110,1150 1085,1155 1060,1160" color="#444444"/><polygon points="1060,1170 1085,1165 1110,1160 1135,1175 1170,1190 1200,1200 1235,1210 1275,1210 1310,1210 1350,1205 1385,1190 1420,1165 1450,1135 1465,1115 1455,1125 1420,1160 1385,1195 1360,1220 1325,1230 1300,1225 1275,1230 1250,1230 1220,1240 1200,1235 1185,1250 1160,1255 1135,1260 1110,1255 1085,1240 1060,1240" color="#626262"/><polygon points="1385,1115 1410,1110 1435,1115 1450,1125 1420,1155 1385,1180 1370,1165 1375,1140" color="#626262"/><polygon points="1060,1245 1080,1235 1105,1255 1135,1265 1160,1260 1185,1255 1200,1240 1220,1245 1250,1235 1275,1235 1300,1230 1325,1235 1300,1245 1285,1252.5 1265,1265 1235,1270 1200,1287.5 1175,1302.5 1150,1292.5 1120,1290 1085,1292.5 1060,1286.2" color="#707070"/><polygon points="1165,1270 1190,1260 1210,1265 1235,1265 1220,1280 1185,1295 1175,1302.5 1160,1290" color="#808080"/><polygon points="1145,1295 1175,1302.5 1177.5,1332.5 1152.5,1330" color="#8e8e8e"/><polygon points="1147.5,1305 1155,1305 1155,1315 1147.5,1315" color="#acacac"/><polygon points="1155,1200 1175,1197.5 1190,1210 1175,1222.5 1157.5,1217.5" color="#707070"/><polygon points="1105,1180 1120,1180 1122.5,1190 1107.5,1192.5" color="#808080"/><polygon points="1110,1040 1260,1040 1235,1050 1215,1065 1195,1070 1170,1065 1160,1052.5 1140,1057.5 1110,1057.5" color="#525252"/><polygon points="1060,1040 1105,1040 1110,1055 1125,1065 1120,1080 1110,1095 1122.5,1115 1135,1125 1155,1135 1142.5,1157.5 1130,1145 1110,1145 1085,1152.5 1060,1157.5" color="#343434"/><polygon points="1155,1135 1170,1122.5 1170,1102.5 1185,1090 1200,1087.5 1215,1082.5 1225,1097.5 1235,1115 1250,1140 1235,1155 1220,1180 1200,1180 1185,1165 1165,1157.5 1142.5,1157.5" color="#343434"/><polygon points="1142.5,1070 1160,1055 1172.5,1062.5 1160,1080 1145,1090 1135,1085" color="#343434"/><polygon points="1260,1040 1485,1040 1475,1055 1450,1065 1410,1080 1385,1090 1375,1115 1370,1140 1345,1155 1335,1170 1310,1180 1285,1187.5 1260,1180 1240,1190 1220,1180 1235,1155 1250,1140 1240,1115 1235,1090 1250,1065" color="#343434"/><polygon points="1205,1105 1230,1102.5 1245,1115 1235,1130 1210,1125" color="#444444"/><polygon points="1270,1040 1370,1040 1375,1065 1365,1090 1355,1115 1340,1140 1320,1150 1300,1145 1285,1125 1275,1105 1265,1080" color="#262626"/><polygon points="1060,1055 1080,1060 1085,1080 1075,1105 1060,1110" color="#262626"/><polygon points="1122.5,1105 1140,1100 1145,1117.5 1130,1122.5" color="#262626"/><polygon points="1190,1115 1210,1110 1220,1125 1210,1145 1195,1140" color="#262626"/><polygon points="1270,1077.5 1280,1075 1282.5,1087.5 1272.5,1090" color="#161616"/><polygon points="1325,1097.5 1332.5,1095 1335,1105 1327.5,1107.5" color="#161616"/><polygon points="1250,1145 1257.5,1142.5 1257.5,1152.5 1250,1152.5" color="#161616"/><polygon points="1130,1127.5 1137.5,1125 1140,1135 1132.5,1136.2" color="#161616"/><circle cx="1070" cy="1170.5" r="2.5" color="#dadada"/><polygon points="1170,1337.5 1195,1352.5 1177.5,1387.5 1147.5,1412.5 1112.5,1402.5 1107.5,1375 1130,1347.5" color="#808080"/><polygon points="1125,1360 1160,1355 1170,1372.5 1155,1385 1130,1380" color="#707070"/><polygon points="1117.5,1390 1145,1385 1160,1395 1145,1407.5 1125,1405" color="#9e9e9e"/><polygon points="1125,1397.5 1142.5,1395 1145,1405 1130,1405" color="#acacac"/><polygon points="700,960 900,960 900,1135 975,1135 975,1260 850,1310 725,1200 780,1085 750,1035 700,1040" color="#808080"/><polygon points="700,960 875,960 885,985 880,1035 860,1060 840,1070 800,1065 775,1070 760,1045 745,1035 725,1055 700,1040" color="#8e8e8e"/><polygon points="700,960 750,960 760,985 740,1010 715,1025 700,1030" color="#9e9e9e"/><polygon points="805,1070 825,1065 835,1080 825,1100 810,1095" color="#bcbcbc"/><polygon points="772.5,1060 785,1055 787.5,1070 775,1072.5" color="#bcbcbc"/><polygon points="850,1060 870,1057.5 875,1070 855,1072.5" color="#acacac"/><polygon points="860,1100 890,1090 915,1100 925,1120 900,1125 875,1120" color="#9e9e9e"/><polygon points="737.5,1180 775,1175 810,1160 830,1140 850,1132.5 890,1135 925,1135 955,1127.5 960,1140 945,1160 945,1200 930,1230 920,1257.5 875,1267.5 872.5,1307.5 850,1305 835,1287.5 810,1287.5 782.5,1265 792.5,1237.5 775,1225 770,1200 735,1200" color="#acacac"/><polygon points="745,1172.5 775,1180 805,1170 825,1150 840,1140 860,1145 890,1140 925,1140 950,1130 955,1135 940,1150 935,1175 935,1200 925,1220 915,1235 915,1255 895,1252.5 875,1262.5 870,1305 855,1302.5 840,1285 815,1285 800,1267.5 785,1263.8 797.5,1237.5 780,1225 775,1200 737.5,1197.5" color="#bcbcbc"/><polygon points="800,1185 850,1175 890,1155 925,1150 930,1175 925,1200 900,1220 875,1235 840,1240 815,1230 800,1210" color="#cacaca"/><polygon points="780,1205 790,1210 787.5,1225 780,1220" color="#dadada"/><polygon points="855,1195 870,1200 865,1215 855,1210" color="#dadada"/><polygon points="830,1155 855,1150 860,1165 840,1175 825,1167.5" color="#9e9e9e"/><polygon points="850,1275 870,1270 871.2,1305 860,1305 850,1290" color="#9e9e9e"/><polygon points="950,1130 970,1120 1000,1135 1015,1160 1010,1185 1015,1210 1005,1230 992.5,1228.8 975,1237.5 955,1250 932.5,1251.2 920,1255 925,1225 940,1200 940,1160" color="#707070"/><polygon points="935,1205 965,1200 990,1210 995,1225 975,1235 950,1245 925,1245" color="#808080"/><polygon points="965,1140 990,1135 1000,1155 985,1175 970,1165" color="#626262"/><polygon points="875,960 885,1010 875,1060 900,1085 925,1100 950,1110 970,1120 1000,1135 1015,1160 1010,1185 1015,1210 1010,1225 1025,1240 1050,1240 1090,1220 1125,1215 1160,1225 1160,960" color="#626262"/><polygon points="880,960 1160,960 1160,1220 1125,1210 1090,1215 1050,1235 1025,1235 1015,1220 1020,1185 1015,1160 1010,1135 990,1115 970,1110 945,1100 920,1090 900,1075 885,1060 890,1010" color="#525252"/><polygon points="950,1065 990,1045 1025,1015 1060,995 1075,1025 1090,1055 1115,1080 1125,1120 1110,1160 1070,1170 1045,1150 1040,1110 1015,1095 975,1095" color="#444444"/><polygon points="1115,1075 1160,1060 1160,1185 1125,1170 1110,1135" color="#444444"/><polygon points="895,1020 915,1015 925,1040 930,1070 915,1075 900,1055" color="#444444"/><polygon points="940,960 1050,960 1025,975 975,975" color="#444444"/><polygon points="945,1150 975,1140 1010,1145 1025,1170 1010,1185 975,1180" color="#626262"/><polygon points="1025,970 1075,965 1090,990 1065,1000 1035,990" color="#626262"/><polygon points="925,985 950,970 1000,975 1025,1000 1010,1025 975,1035 940,1035 925,1010" color="#525252"/><polygon points="925,1020 940,1015 945,1030 930,1035" color="#707070"/><polygon points="965,1070 990,1055 1005,1035 1025,1025 1035,1005 1055,1002.5 1060,1020 1050,1035 1065,1045 1080,1060 1095,1075 1105,1095 1110,1120 1100,1140 1090,1155 1070,1155 1055,1140 1050,1115 1055,1095 1035,1085 1015,1080 990,1082.5 970,1080" color="#343434"/><polygon points="900,1025 910,1020 920,1040 925,1065 915,1070 905,1050" color="#343434"/><polygon points="1125,1085 1145,1075 1160,1070 1160,1175 1145,1170 1125,1155 1115,1135 1125,1110" color="#343434"/><polygon points="1055,1105 1075,1100 1085,1120 1080,1140 1065,1145 1057.5,1125" color="#262626"/><polygon points="1130,1105 1150,1100 1160,1110 1160,1140 1140,1140" color="#262626"/><polygon points="1135,1115 1142.5,1112.5 1145,1125 1137.5,1127.5" color="#161616"/><polygon points="1050,1180 1075,1175 1090,1190 1075,1205 1055,1200" color="#626262"/><polygon points="1110,1180 1130,1177.5 1135,1192.5 1115,1195" color="#808080"/><circle cx="1069.5" cy="1171.2" r="2" color="#dadada"/><polygon points="1045,1245 1075,1235 1100,1240 1125,1260 1160,1265 1160,1293.8 1090,1293.8 1060,1285" color="#707070"/><polygon points="1050,1260 1075,1255 1090,1275 1075,1290 1060,1282.5" color="#808080"/><polygon points="280,740 740,740 740,1065 567.5,1080 465,1047.5 380,1005 280,910" color="#9e9e9e"/><polygon points="280,835 330,845 380,840 430,855 480,855 530,845 555,835 570,805 605,765 670,765 740,760 740,790 705,800 670,815 630,830 580,840 545,850 505,865 455,865 405,865 355,855 305,860 280,855" color="#acacac"/><polygon points="280,740 740,740 740,760 705,755 670,765 630,760 605,765 580,780 570,805 555,835 530,845 505,850 480,855 455,850 430,855 405,850 380,840 355,835 330,845 305,840 280,835" color="#bcbcbc"/><polygon points="305,755 355,740 530,740 535,770 525,805 505,822.5 470,835 440,825 405,830 380,815 345,800 315,780" color="#c3c3c3"/><polygon points="630,775 670,770 705,780 690,805 655,815 630,805" color="#bcbcbc"/><polygon points="575,780 605,775 625,790 605,805 580,800" color="#9e9e9e"/><polygon points="520,870 555,845 605,840 655,845 690,865 705,900 730,930 740,965 740,1015 705,1015 680,990 655,980 620,985 580,980 545,965 520,945 515,910" color="#8e8e8e"/><polygon points="555,857.5 605,850 645,865 665,890 655,915 670,940 690,965 705,990 680,980 650,965 625,950 600,955 570,950 545,935 540,910 550,880" color="#808080"/><polygon points="580,870 595,865 605,880 590,885" color="#707070"/><polygon points="605,880 635,880 640,895 615,900" color="#707070"/><polygon points="600,920 615,915 620,930 605,935" color="#707070"/><polygon points="622.5,902.5 635,900 637.5,912.5 625,915" color="#bcbcbc"/><polygon points="645,905 670,895 700,870 720,840 740,835 740,980 720,975 700,960 675,945 650,930" color="#707070"/><polygon points="655,910 680,905 705,880 725,850 740,845 740,970 725,965 710,950 690,940 680,935 660,925" color="#626262"/><polygon points="720,860 740,855 740,880 725,880" color="#525252"/><polygon points="455,862.5 495,865 505,880 475,882.5 455,875" color="#8e8e8e"/><polygon points="600,1007.5 635,1005 640,1020 615,1025 600,1017.5" color="#acacac"/><polygon points="605,1010 630,1008.8 632.5,1017.5 610,1020" color="#bcbcbc"/><polygon points="555,1025 580,1030 585,1055 567.5,1072.5 565,1062.5 555,1045" color="#acacac"/><polygon points="465,1015 490,1017.5 525,1022.5 552.5,1032.5 545,1015 520,1010 495,1005 475,1005" color="#bcbcbc"/><polygon points="347.5,965 380,990 410,1010 455,1015 465,1000 430,995 400,980 370,965" color="#acacac"/><polygon points="705,990 740,980 740,1015 720,1015" color="#808080"/><polygon points="280,815 295,822.5 295,837.5 280,840" color="#bcbcbc"/><polygon points="215,725 265,715 280,750 295,800 315,840 330,860 315,875 290,865 270,850 250,825 235,800 222.5,775 215,750" color="#a6a6a6"/><polygon points="230,800 240,795 250,825 240,830" color="#bcbcbc"/><polygon points="245,845 255,840 260,860 250,865" color="#bcbcbc"/><polygon points="270,825 290,820 300,840 290,850 275,845" color="#cacaca"/><polygon points="187.5,785 200,792.5 215,800 225,810 222.5,840 212.5,850 200,847.5 190,830 185,805" color="#8e8e8e"/><polygon points="190,805 205,810 210,830 200,840 192.5,825" color="#808080"/><polygon points="1467.8,160.4 1492.2,181.7 1507.4,206.1 1504.3,242.6 1492.2,279.1 1473.9,303.5 1461.7,333.9 1467.8,364.3 1449.6,364.3 1431.3,333.9 1419.1,297.4 1443.5,270 1455.7,248.7 1464.8,218.3" color="#8e8e8e"/><polygon points="1330.9,136.1 1358.3,123.9 1394.8,148.3 1419.1,163.5 1443.5,148.3 1467.8,160.4 1470.9,187.8 1464.8,218.3 1455.7,248.7 1443.5,270 1422.2,279.1 1431.3,248.7 1425.2,230.4 1394.8,215.2 1370.4,224.3 1343,239.6 1321.7,230.4 1327.8,190.9" color="#9e9e9e"/><polygon points="1352.2,291.3 1413,273 1461.7,315.7 1498.3,364.3 1473.9,394.8 1461.7,425.2 1449.6,455.7 1419.1,486.1 1407,515 1297.4,515 1303.5,467.8 1327.8,431.3 1370.4,407 1364.3,364.3 1352.2,327.8" color="#8e8e8e"/><polygon points="1370.4,303.5 1394.8,291.3 1419.1,297.4 1437.4,321.7 1461.7,346.1 1473.9,364.3 1467.8,376.5 1443.5,388.7 1431.3,407 1443.5,425.2 1431.3,449.6 1413,467.8 1394.8,492.2 1382.6,515 1315.7,515 1315.7,480 1333.9,449.6 1358.3,431.3 1382.6,419.1 1394.8,400.9 1382.6,376.5 1370.4,346.1 1364.3,321.7" color="#9e9e9e"/><polygon points="1376.5,312.6 1407,309.6 1425.2,327.8 1443.5,352.2 1461.7,364.3 1443.5,376.5 1425.2,370.4 1413,382.6 1394.8,364.3 1382.6,340" color="#acacac"/><polygon points="1379.6,318.7 1400.9,315.7 1413,333.9 1425.2,352.2 1413,364.3 1397.8,352.2 1382.6,333.9" color="#bcbcbc"/><polygon points="1321.7,455.7 1346.1,437.4 1370.4,431.3 1388.7,443.5 1382.6,467.8 1364.3,486.1 1358.3,515 1321.7,515" color="#acacac"/><polygon points="1327.8,464.8 1352.2,452.6 1370.4,455.7 1364.3,480 1343,498.3 1330.9,486.1" color="#bcbcbc"/><polygon points="1115.7,976.5 1143.5,973 1185.2,980 1213,987 1247.8,983.5 1261.7,1000.9 1265.2,1028.7 1261.7,1056.5 1247.8,1063.5 1227,1070.4 1206.1,1063.5 1185.2,1070.4 1164.3,1063.5 1143.5,1077.4 1129.6,1098.3 1115.7,1084.3 1122.6,1063.5 1115.7,1035.7 1122.6,1007.8" color="#626262"/><polygon points="1122.6,1014.8 1143.5,1007.8 1150.4,1028.7 1136.5,1049.6 1122.6,1042.6" color="#707070"/><polygon points="1171.3,1000.9 1192.2,997.4 1195.7,1014.8 1178.3,1021.7" color="#707070"/><polygon points="1480,1105 1550,1105 1550,1245 1480,1245" color="#707070"/><polygon points="1510,1170 1530,1165 1532,1200 1520,1215 1508,1205" color="#808080"/><polygon points="1497,1160 1505,1158 1503,1195 1496,1192" color="#626262"/><polygon points="1509,1122 1521,1118 1520,1132 1508,1140" color="#626262"/><polygon points="1512,1126 1518,1124 1516,1134 1510,1137" color="#444444"/><polygon points="1514,1218 1524,1215 1524,1238 1516,1236" color="#8e8e8e"/></g><clipPath id="cn"><polygon points="210,775 213.8,750 210,730 217.5,725 210,702.5 203.8,677.5 192.5,673.8 175,665 156.2,645 150,622.5 137.5,600 125,590 126.2,586.2 140,586.2 145,575 143.8,550 148.8,542.5 135,535 125,530 122.5,517.5 126.2,500 140,485 170,473.8 187.5,475 193.8,487.5 210,488.8 230,472.5 250,475 260,472.5 290,465 312.5,460 327.5,453.8 330,437.5 340,427.5 343.8,422.5 350,420 352.5,400 352.5,395 352.5,370 351.2,360 345,355 347.5,351.2 392.5,350 402.5,356.2 411.2,357.5 411.2,342.5 420,327.5 430,310 442.5,292.5 455,300 470,305 485,312.5 500,307.5 507.5,306.2 508.8,270 520,263.8 535,257.5 550,243.8 567.5,245 570,255 585,275 602.5,291.2 615,300 623.8,317.5 631.2,340 630,367.5 620,385 621.2,395 630,402.5 657.5,415 682.5,425 710,440 730,446.2 735,460 745,485 755,505 780,505 810,511.2 835,515 860,513.8 885,517.5 900,525 910,532.5 935,541.2 955,547.5 967.5,547.5 972.5,555 982.5,556.2 1000,547.5 1022.5,536.2 1047.5,527.5 1072.5,522.5 1095,521.2 1115,512.5 1135,495 1150,480 1162.5,472.5 1162.5,462.5 1152.5,450 1150,437.5 1155,425 1165,423.8 1185,430 1202.5,430 1220,421.2 1227.5,405 1250,400 1265,380 1282.5,362.5 1295,355 1310,352.5 1325,342.5 1347.5,340 1352.5,335 1347.5,322.5 1335,310 1320,302.5 1305,300 1295,303.8 1285,312.5 1270,310 1255,315 1247.5,315 1241.2,305 1245,290 1252.5,265 1260,240 1287.5,247.5 1290,246.2 1300,230 1312.5,220 1320,215 1320,202.5 1327.5,185 1335,165 1340,152.5 1342.5,135 1337.5,130 1327.5,125 1332.5,115 1342.5,107.5 1355,101.2 1370,95 1390,87.5 1405,87.5 1425,90 1440,92.5 1455,100 1465,110 1475,120 1480,132.5 1487.5,145 1495,160 1505,172.5 1512.5,185 1517.5,195 1530,202.5 1550,200 1567.5,202.5 1585,207.5 1597.5,212.5 1605,222.5 1610,235 1620,247.5 1635,245 1650,237.5 1660,230 1667.5,220 1680,212.5 1695,200 1702.5,197.5 1703.8,210 1700,222.5 1695,235 1697.5,255 1700,275 1697.5,295 1692.5,310 1690,330 1690,331.2 1660,327.5 1655,340 1645,350 1652.5,365 1660,385 1663.8,400 1662.5,420 1650,428.8 1640,422.5 1632.5,425 1632.5,442.5 1622.5,447.5 1620,460 1605,467.5 1595,472.5 1600,485 1595,490 1580,492.5 1565,485 1557.5,495 1555,510 1545,522.5 1537.5,535 1530,542.5 1517.5,555 1512.5,565 1505,572.5 1495,575 1480,585 1470,595 1460,602.5 1450,612.5 1437.5,622.5 1431.2,625 1432.5,615 1440,605 1432.5,600 1437.5,585 1445,575 1451.2,560 1447.5,550 1437.5,543.8 1427.5,547.5 1417.5,552.5 1410,562.5 1400,575 1390,585 1380,595 1377.5,607.5 1370,615 1355,620 1342.5,627.5 1335,640 1337.5,650 1350,660 1365,661.2 1377.5,665 1385,671.2 1380,677.5 1377.5,685 1387.5,692.5 1400,691.2 1410,680 1417.5,670 1430,665 1442.5,670 1455,667.5 1467.5,667.5 1482.5,668.8 1482.5,680 1475,692.5 1455,700 1442.5,710 1430,722.5 1420,725 1423.8,735 1417.5,745 1410,757.5 1402.5,775 1405,780 1420,787.5 1435,797.5 1445,815 1455,832.5 1465,847.5 1477.5,857.5 1485,870 1495,880 1497.5,890 1490,895 1500,905 1487.5,915 1485,930 1497.5,937.5 1510,940 1505,952.5 1500,965 1502.5,980 1500,990 1495,1000 1490,1015 1485,1035 1480,1050 1472.5,1065 1462.5,1075 1467.5,1090 1462.5,1102.5 1465,1115 1455,1125 1445,1137.5 1435,1147.5 1420,1160 1410,1170 1400,1180 1385,1195 1375,1210 1360,1220 1342.5,1230 1325,1235 1310,1240 1300,1245 1285,1252.5 1275,1240 1272.5,1255 1265,1265 1250,1272.5 1235,1270 1220,1280 1200,1287.5 1185,1295 1175,1302.5 1172.5,1312.5 1165,1310 1167.5,1320 1175,1327.5 1177.5,1332.5 1165,1335 1152.5,1330 1145,1315 1147.5,1300 1150,1292.5 1142.5,1290 1135,1285 1120,1290 1105,1282.5 1090,1290 1085,1292.5 1085,1292.5 1075,1287.5 1060,1286.2 1050,1275 1042.5,1262.5 1040,1250 1025,1245 1010,1237.5 1000,1232.5 992.5,1228.8 985,1232.5 975,1237.5 970,1245 960,1245 955,1250 947.5,1252.5 940,1247.5 932.5,1251.2 925,1247.5 915,1257.5 900,1252.5 892.5,1250 885,1260 872.5,1262.5 867.5,1270 870,1285 871.2,1305 860,1305 852.5,1300 852.5,1287.5 845,1282.5 835,1285 825,1290 815,1285 810,1272.5 800,1267.5 785,1263.8 790,1252.5 797.5,1237.5 790,1232.5 780,1225 777.5,1210 772.5,1200 762.5,1197.5 750,1197.5 735,1197.5 737.5,1185 745,1172.5 742.5,1160 760,1150 767.5,1140 775,1122.5 780,1100 780,1077.5 772.5,1070 767.5,1067.5 765,1055 757.5,1042.5 750,1035 745,1035 737.5,1047.5 730,1057.5 720,1052.5 710,1045 700,1040 685,1037.5 670,1047.5 650,1057.5 630,1067.5 622.5,1075 605,1076.2 580,1075 567.5,1075 565,1062.5 555,1045 552.5,1032.5 542.5,1030 535,1027.5 525,1022.5 515,1017.5 500,1015 490,1017.5 480,1027.5 475,1040 470,1045 465,1035 466.2,1015 455,1015 435,1015 420,1012.5 410,1010 395,1002.5 385,1002.5 380,990 365,985 355,972.5 347.5,965 335,957.5 327.5,945 312.5,942.5 305,930 295,920 285,910 280,905 275,895 262.5,886.2 257.5,887.5 250,893.8 245,892.5 240,882.5 225,870 212.5,857.5 200,847.5 190,830 186.2,815 183.8,800 187.5,785 197.5,781.2 200,792.5 210,790 212.5,782.5"/><polygon points="1170,1340 1185,1342.5 1192.5,1352.5 1185,1365 1177.5,1385 1165,1400 1147.5,1410 1130,1407.5 1115,1400 1110,1377.5 1117.5,1362.5 1130,1350 1145,1342.5 1160,1345"/><polygon points="1525.6,1112.8 1532,1113.5 1538.6,1117.1 1541.2,1123.2 1538.6,1131.9 1540.4,1144 1536.9,1161.3 1535.2,1178.6 1533.4,1192.5 1528.2,1206.4 1523,1213.3 1523,1223.7 1523,1235.8 1519.6,1237.6 1516.1,1232.4 1512.7,1223.7 1507.5,1213.3 1497.1,1206.4 1490.1,1199.4 1488.4,1187.3 1490.1,1175.2 1495.3,1161.3 1500.5,1147.5 1507.5,1133.6 1512.7,1123.2 1521.3,1116.3"/></clipPath>
<filter id="fld" x="90" y="60" width="1660" height="1370" filterUnits="userSpaceOnUse" color-interpolation-filters="sRGB">
<feGaussianBlur in="SourceGraphic" stdDeviation="3.5" result="b"/>
<feTurbulence type="fractalNoise" baseFrequency="0.045" numOctaves="5" seed="3" result="t"/>
<feColorMatrix in="t" type="matrix" values="1 0 0 0 0  1 0 0 0 0  1 0 0 0 0  0 0 0 0 1" result="tn"/>
<feComposite in="b" in2="tn" operator="arithmetic" k1="0" k2="1" k3="0.16" k4="-0.08" result="f"/>
<feComponentTransfer in="f" result="col"><feFuncR type="discrete" tableValues="0.275 0.490 0.314 0.647 0.000 0.020 0.020 0.471 0.608 0.745 0.933 0.984 0.980 0.941 0.902 0.745 0.549"/><feFuncG type="discrete" tableValues="0.000 0.000 0.000 0.020 0.000 0.294 0.412 0.706 0.863 0.980 0.988 0.882 0.569 0.392 0.000 0.000 0.000"/><feFuncB type="discrete" tableValues="0.000 0.000 0.471 0.902 1.000 0.686 1.000 0.863 0.961 0.882 0.784 0.510 0.020 0.020 0.000 0.196 0.137"/></feComponentTransfer>
<feGaussianBlur in="SourceGraphic" stdDeviation="5" result="bs0"/>
<feTurbulence type="fractalNoise" baseFrequency="0.022" numOctaves="3" seed="11" result="t2"/>
<feColorMatrix in="t2" type="matrix" values="1 0 0 0 0  1 0 0 0 0  1 0 0 0 0  0 0 0 0 1" result="tn2"/>
<feComposite in="bs0" in2="tn2" operator="arithmetic" k1="0" k2="1" k3="0.12" k4="-0.06" result="bs"/>
<feColorMatrix in="bs" type="matrix" values="0 0 0 0 0  0 0 0 0 0  0 0 0 0 0  1 0 0 0 0" result="am"/>
<feComponentTransfer in="am" result="m0"><feFuncA type="discrete" tableValues="0 0 0 0 0 0 0 0 0 0 0 0 0 0 0 0 0 0 0 0 0 1 1 1 1 1 1 1 1 1 1 1 1 1"/></feComponentTransfer>
<feMorphology in="m0" operator="dilate" radius="1.6" result="d0"/>
<feMorphology in="m0" operator="erode" radius="1.6" result="e0"/>
<feComposite in="d0" in2="e0" operator="out" result="r0"/>
<feFlood flood-color="#7ab2ea" result="c0"/>
<feComposite in="c0" in2="r0" operator="in" result="l0"/>
<feComponentTransfer in="am" result="m1"><feFuncA type="discrete" tableValues="0 0 0 0 0 0 0 0 0 0 0 0 0 0 1 1 1 1 1 1 1 1 1 1 1 1 1 1 1 1 1 1 1 1"/></feComponentTransfer>
<feMorphology in="m1" operator="dilate" radius="1.3" result="d1"/>
<feMorphology in="m1" operator="erode" radius="1.3" result="e1"/>
<feComposite in="d1" in2="e1" operator="out" result="r1"/>
<feFlood flood-color="#6f5fc4" result="c1"/>
<feComposite in="c1" in2="r1" operator="in" result="l1"/>
<feComponentTransfer in="am" result="m2"><feFuncA type="discrete" tableValues="0 0 0 0 0 0 0 0 1 1 1 1 1 1 1 1 1 1 1 1 1 1 1 1 1 1 1 1 1 1 1 1 1 1"/></feComponentTransfer>
<feMorphology in="m2" operator="dilate" radius="1.3" result="d2"/>
<feMorphology in="m2" operator="erode" radius="1.3" result="e2"/>
<feComposite in="d2" in2="e2" operator="out" result="r2"/>
<feFlood flood-color="#6a3a78" result="c2"/>
<feComposite in="c2" in2="r2" operator="in" result="l2"/>
<feMerge><feMergeNode in="col"/><feMergeNode in="l1"/><feMergeNode in="l2"/><feMergeNode in="l0"/></feMerge>
</filter>
<filter id="fld2" x="95" y="1025" width="295" height="160" filterUnits="userSpaceOnUse" color-interpolation-filters="sRGB">
<feGaussianBlur in="SourceGraphic" stdDeviation="2" result="b"/>
<feTurbulence type="fractalNoise" baseFrequency="0.11" numOctaves="3" seed="5" result="t"/>
<feColorMatrix in="t" type="matrix" values="1 0 0 0 0  1 0 0 0 0  1 0 0 0 0  0 0 0 0 1" result="tn"/>
<feComposite in="b" in2="tn" operator="arithmetic" k1="0" k2="1" k3="0.16" k4="-0.08" result="f"/>
<feComponentTransfer in="f"><feFuncR type="discrete" tableValues="0.275 0.490 0.314 0.647 0.000 0.020 0.020 0.471 0.608 0.745 0.933 0.984 0.980 0.941 0.902 0.745 0.549"/><feFuncG type="discrete" tableValues="0.000 0.000 0.000 0.020 0.000 0.294 0.412 0.706 0.863 0.980 0.988 0.882 0.569 0.392 0.000 0.000 0.000"/><feFuncB type="discrete" tableValues="0.000 0.000 0.471 0.902 1.000 0.686 1.000 0.863 0.961 0.882 0.784 0.510 0.020 0.020 0.000 0.196 0.137"/></feComponentTransfer>
</filter></defs><polyline points="1091,1296 1085,1292.5 1075,1287.5 1060,1286.2 1050,1275 1042.5,1262.5 1040,1250 1025,1245 1010,1237.5 1000,1232.5 992.5,1228.8 985,1232.5 975,1237.5 970,1245 960,1245 955,1250 947.5,1252.5 940,1247.5 932.5,1251.2 925,1247.5 915,1257.5 900,1252.5 892.5,1250 885,1260 872.5,1262.5 867.5,1270 870,1285 871.2,1305 860,1305 852.5,1300 852.5,1287.5 845,1282.5 835,1285 825,1290 815,1285 810,1272.5 800,1267.5 785,1263.8 790,1252.5 797.5,1237.5 790,1232.5 780,1225 777.5,1210 772.5,1200 762.5,1197.5 750,1197.5 735,1197.5 737.5,1185 745,1172.5 742.5,1160 760,1150 767.5,1140 775,1122.5 780,1100 780,1077.5 772.5,1070 767.5,1067.5 765,1055 757.5,1042.5 750,1035 745,1035 737.5,1047.5 730,1057.5 720,1052.5 710,1045 700,1040 685,1037.5 670,1047.5 650,1057.5 630,1067.5 622.5,1075 605,1076.2 580,1075 567.5,1075 565,1062.5 555,1045 552.5,1032.5 542.5,1030 535,1027.5 525,1022.5 515,1017.5 500,1015 490,1017.5 480,1027.5 475,1040 470,1045 465,1035 466.2,1015 455,1015 435,1015 420,1012.5 410,1010 395,1002.5 385,1002.5 380,990 365,985 355,972.5 347.5,965 335,957.5 327.5,945 312.5,942.5 305,930 295,920 285,910 280,905 275,895 262.5,886.2 257.5,887.5 250,893.8 245,892.5 240,882.5 225,870 212.5,857.5 200,847.5 190,830 186.2,815 183.8,800 187.5,785 197.5,781.2 200,792.5 210,790 212.5,782.5 210,775 213.8,750 210,730 217.5,725 210,702.5 203.8,677.5 192.5,673.8 175,665 156.2,645 150,622.5 137.5,600 125,590 126.2,586.2 140,586.2 145,575 143.8,550 148.8,542.5 135,535 125,530 122.5,517.5 126.2,500 140,485 170,473.8 187.5,475 193.8,487.5 210,488.8 230,472.5 250,475 260,472.5 290,465 312.5,460 327.5,453.8 330,437.5 340,427.5 343.8,422.5 350,420 352.5,400 352.5,395 352.5,370 351.2,360 345,355 347.5,351.2 392.5,350 402.5,356.2 411.2,357.5 411.2,342.5 420,327.5 430,310 442.5,292.5 455,300 470,305 485,312.5 500,307.5 507.5,306.2 508.8,270 520,263.8 535,257.5 550,243.8 567.5,245 570,255 585,275 602.5,291.2 615,300 623.8,317.5 631.2,340 630,367.5 620,385 621.2,395 630,402.5 657.5,415 682.5,425 710,440 730,446.2 735,460 745,485 755,505 780,505 810,511.2 835,515 860,513.8 885,517.5 900,525 910,532.5 935,541.2 955,547.5 967.5,547.5 972.5,555 982.5,556.2 1000,547.5 1022.5,536.2 1047.5,527.5 1072.5,522.5 1095,521.2 1115,512.5 1135,495 1150,480 1162.5,472.5 1162.5,462.5 1152.5,450 1150,437.5 1155,425 1165,423.8 1185,430 1202.5,430 1220,421.2 1227.5,405 1250,400 1265,380 1282.5,362.5 1295,355 1310,352.5 1325,342.5 1347.5,340 1352.5,335 1347.5,322.5 1335,310 1320,302.5 1305,300 1295,303.8 1285,312.5 1270,310 1255,315 1247.5,315 1241.2,305 1245,290 1252.5,265 1260,240 1287.5,247.5 1290,246.2 1300,230 1312.5,220 1320,215 1320,202.5 1327.5,185 1335,165 1340,152.5 1342.5,135 1337.5,130 1327.5,125 1332.5,115 1342.5,107.5 1355,101.2 1370,95 1390,87.5 1405,87.5 1425,90 1440,92.5 1455,100 1465,110 1475,120 1480,132.5 1487.5,145 1495,160 1505,172.5 1512.5,185 1517.5,195 1530,202.5 1550,200 1567.5,202.5 1585,207.5 1597.5,212.5 1605,222.5 1610,235 1620,247.5 1635,245 1650,237.5 1660,230 1667.5,220 1680,212.5 1695,200 1702.5,197.5 1703.8,210 1700,222.5 1695,235 1697.5,255 1700,275 1697.5,295 1692.5,310 1690,330 1690,331.2 1660,327.5 1655,340 1645,350 1652.5,365 1660,385 1663.8,400 1662.5,420 1650,428.8 1640,422.5 1632.5,425 1632.5,442.5 1622.5,447.5 1620,460 1605,467.5 1595,472.5 1600,485 1595,490 1580,492.5 1565,485 1557.5,495 1555,510 1545,522.5 1537.5,535 1530,542.5 1517.5,555 1512.5,565 1515,577" fill="none" stroke="#a9a9a9" stroke-width="33" stroke-linejoin="round" stroke-linecap="butt"/><g clip-path="url(#cn)"><g filter="url(#fld)"><rect x="90" y="60" width="1660" height="1370" fill="#9e9e9e"/><g stroke-width="20"><use href="#fp"/></g><g stroke-width="0"><use href="#fp"/></g></g></g><polyline points="755.7,505.2 748.7,510.4 745.2,524.3 734.8,534.8 720.9,541.7 703.5,548.7 686.1,559.1 675.7,573 654.8,576.5 647.8,593.9 640.9,611.3 630.4,628.7" fill="none" stroke="#5a5a5f" stroke-width="1.9" stroke-linejoin="round" clip-path="url(#cn)"/><polyline points="630.4,628.7 606.1,633.9 585.2,637.4 566.1,642.6 571.3,656.5 574.8,670.4 585.2,684.3 592.2,698.3 578.3,708.7 574.8,722.6 581.7,729.6 564.3,726.1 550.4,722.6 540,729.6 529.6,719.1 512.2,708.7 494.8,708.7 477.4,705.2 460,707" fill="none" stroke="#5a5a5f" stroke-width="1.9" stroke-linejoin="round" clip-path="url(#cn)"/><polyline points="540,729.6 536.5,747 529.6,760.9 533,781.7 527.8,799.1 534.8,813 543.5,827 553.9,837.4 567.8,842.6 585.2,847.8 606.1,858.3 627,865.2 640.9,872.2 661.7,872.2 675.7,882.6 686.1,896.5 696.5,910.4 710.4,913.9 717.4,907 727.8,910.4 738.3,920.9 745.2,940" fill="none" stroke="#5a5a5f" stroke-width="1.9" stroke-linejoin="round" clip-path="url(#cn)"/><polyline points="630.4,628.7 651.3,628.7 654.8,635.7 668.7,642.6 686.1,647.8 689.6,660 710.4,661.7 727.8,670.4 738.3,672.2 748.7,663.5 755.7,660 760.9,637.4 773,642.6 787,649.6 793.9,646.1 802.6,653 811.3,646.1 828.7,660 842.6,667 846.1,677.4 856.5,673.9 870.4,687.8 887.8,698.3 898.3,708.7 908.7,722.6 912.2,733 922.6,747 922.6,767.8 919.1,781.7 905.2,788.7 894.8,802.6 891.3,816.5 898.3,827 887.8,833.9 870.4,827 860,823.5 842.6,830.4 828.7,827 807.8,830.4 793.9,837.4 773,825.2 762.6,830.4 755.7,837.4 762.6,851.3 766.1,865.2 759.1,875.7 748.7,882.6 738.3,882.6 734.8,896.5 727.8,910.4" fill="none" stroke="#5a5a5f" stroke-width="1.9" stroke-linejoin="round" clip-path="url(#cn)"/><polyline points="774.8,505.2 780,524.3 787,545.2 783.5,559.1 793.9,573 800.9,576.5 802.6,588.7 811.3,587 821.7,581.7 835.7,578.3 849.6,581.7 853,593.9 846.1,604.3 839.1,614.8 832.2,616.5 842.6,625.2 856.5,628.7 863.5,639.1 867,649.6 877.4,656.5 891.3,660 898.3,653 912.2,646.1 926.1,644.3 936.5,637.4 953.9,637.4 960.9,649.6 953.9,663.5 940,673.9 936.5,684.3 947,694.8 960.9,708.7 974.8,705.2 995.7,698.3 1006.1,694.8 1009.6,677.4 1006.1,663.5 1013,649.6 1020,642.6 1030.4,639.1 1037.4,663.5 1051.3,684.3 1047.8,698.3 1051.3,715.7 1047.8,726.1 1030.4,722.6 1023.5,733 1030.4,747 1033.9,767.8 1030.4,781.7 1023.5,792.2 1009.6,785.2 1002.6,774.8 992.2,767.8 995.7,753.9 988.7,733 981.7,722.6 971.3,712.2 974.8,705.2" fill="none" stroke="#5a5a5f" stroke-width="1.9" stroke-linejoin="round" clip-path="url(#cn)"/><polyline points="1047.8,726.1 1065.2,722.6 1079.1,733 1086.1,747 1082.6,767.8 1072.2,781.7 1051.3,788.7 1037.4,795.7 1030.4,806.1 1033.9,820 1023.5,830.4 1030.4,844.3 1020,854.8 1009.6,868.7 1002.6,879.1 988.7,886.1 974.8,882.6 964.3,868.7 957.4,851.3 947,840.9 933,833.9 922.6,827 912.2,833.9 898.3,827" fill="none" stroke="#5a5a5f" stroke-width="1.9" stroke-linejoin="round" clip-path="url(#cn)"/><polyline points="1007,647.8 1020.9,640.9 1027.8,644.3 1034.8,686.1 1048.7,700 1069.6,693 1090.4,689.6 1097.4,675.7 1104.3,658.3 1118.3,647.8 1139.1,637.4 1153,630.4 1167,623.5 1180.9,602.6 1194.8,592.2 1208.7,588.7 1226.1,574.8 1222.6,553.9 1229.6,536.5 1243.5,529.6 1250.4,543.5 1264.3,543.5 1274.8,533 1285.2,529.6 1295.7,519.1 1306.1,508.7 1316.5,500 1327,501.7 1333.9,515.7 1340.9,529.6 1347.8,540 1365.2,540 1365.2,512.2 1361.7,501.7 1375.7,505.2 1386.1,522.6 1403.5,501.7 1424.3,484.3 1441.7,470.4 1462.6,460 1471.3,442.6 1462.6,425.2 1448.7,411.3 1438.3,418.3 1427.8,411.3 1420.9,393.9 1417.4,380" fill="none" stroke="#5a5a5f" stroke-width="1.9" stroke-linejoin="round" clip-path="url(#cn)"/><polyline points="1365.2,540 1361.7,553.9 1368.7,567.8 1382.6,578.3 1389.6,585.2" fill="none" stroke="#5a5a5f" stroke-width="1.9" stroke-linejoin="round" clip-path="url(#cn)"/><polyline points="1278.3,574.8 1288.7,567.8 1299.1,560.9 1313,567.8 1327,581.7 1330.4,595.7 1316.5,595.7 1313,609.6 1299.1,613 1281.7,616.5 1271.3,606.1 1274.8,588.7 1278.3,574.8" fill="none" stroke="#5a5a5f" stroke-width="1.9" stroke-linejoin="round" clip-path="url(#cn)"/><polyline points="1313,609.6 1309.6,623.5 1309.6,644.3 1327,651.3 1337.4,644.3 1333.9,630.4 1339.1,620 1330.4,595.7" fill="none" stroke="#5a5a5f" stroke-width="1.9" stroke-linejoin="round" clip-path="url(#cn)"/><polyline points="1226.1,574.8 1236.5,588.7 1243.5,602.6 1240,616.5 1226.1,620 1222.6,637.4 1229.6,651.3 1222.6,668.7 1236.5,686.1 1240,707 1233,727.8 1236.5,741.7 1233,762.6 1219.1,776.5 1201.7,783.5 1187.8,787" fill="none" stroke="#5a5a5f" stroke-width="1.9" stroke-linejoin="round" clip-path="url(#cn)"/><polyline points="1180.9,602.6 1173.9,623.5 1153,637.4 1153,658.3 1139.1,675.7 1139.1,693 1135.7,713.9 1139.1,741.7 1142.6,762.6 1146.1,790.4 1139.1,807.8 1146.1,814.8 1167,804.3 1187.8,787" fill="none" stroke="#5a5a5f" stroke-width="1.9" stroke-linejoin="round" clip-path="url(#cn)"/><polyline points="1327,651.3 1327,672.2 1313,679.1 1299.1,693 1292.2,707 1288.7,727.8 1285.2,748.7 1271.3,741.7 1250.4,745.2 1236.5,741.7" fill="none" stroke="#5a5a5f" stroke-width="1.9" stroke-linejoin="round" clip-path="url(#cn)"/><polyline points="1285.2,748.7 1288.7,762.6 1302.6,776.5 1313,790.4 1330.4,783.5 1347.8,793.9 1361.7,790.4 1379.1,783.5 1393,769.6 1400,776.5" fill="none" stroke="#5a5a5f" stroke-width="1.9" stroke-linejoin="round" clip-path="url(#cn)"/><polyline points="1313,790.4 1327,807.8 1344.3,818.3 1361.7,828.7 1372.2,828.7 1375.7,846.1 1382.6,860 1375.7,873.9" fill="none" stroke="#5a5a5f" stroke-width="1.9" stroke-linejoin="round" clip-path="url(#cn)"/><polyline points="1146.1,814.8 1149.6,832.2 1163.5,846.1 1163.5,867 1153,880.9 1167,900" fill="none" stroke="#5a5a5f" stroke-width="1.9" stroke-linejoin="round" clip-path="url(#cn)"/><polyline points="1167,867 1187.8,887.8 1208.7,891.3 1236.5,884.3 1264.3,880.9 1278.3,863.5 1299.1,856.5 1313,842.6 1313,825.2 1299.1,818.3 1302.6,804.3 1313,790.4" fill="none" stroke="#5a5a5f" stroke-width="1.9" stroke-linejoin="round" clip-path="url(#cn)"/><polyline points="1034.8,686.1 1045.2,710.4 1031.3,727.8 1020.9,741.7 1034.8,759.1 1027.8,776.5 1041.7,783.5 1059.1,790.4 1069.6,776.5 1080,762.6 1083.5,741.7 1076.5,727.8 1090.4,713.9 1090.4,689.6" fill="none" stroke="#5a5a5f" stroke-width="1.9" stroke-linejoin="round" clip-path="url(#cn)"/><polyline points="1059.1,790.4 1052.2,811.3 1034.8,825.2 1020.9,832.2 1013.9,860 1007,880.9 1000,891.3" fill="none" stroke="#5a5a5f" stroke-width="1.9" stroke-linejoin="round" clip-path="url(#cn)"/><polyline points="1375.7,846.1 1393,842.6 1410.4,860 1400,873.9 1389.6,887.8 1396.5,900" fill="none" stroke="#5a5a5f" stroke-width="1.9" stroke-linejoin="round" clip-path="url(#cn)"/><polyline points="993.9,990.4 1004.3,973 1018.3,973 1035.7,980 1046.1,966.1 1060,952.2 1073.9,934.8 1084.3,924.3 1087.8,907 1101.7,910.4 1115.7,917.4 1129.6,924.3 1140,938.3 1136.5,952.2 1122.6,959.1 1105.2,959.1 1091.3,969.6 1094.8,987 1108.7,1000.9 1119.1,1014.8 1115.7,1035.7 1101.7,1042.6 1094.8,1028.7 1080.9,1018.3 1063.5,1014.8 1053,1028.7 1046.1,1042.6 1028.7,1035.7 1014.8,1042.6 1004.3,1028.7 993.9,1014.8 993.9,990.4" fill="none" stroke="#5a5a5f" stroke-width="1.9" stroke-linejoin="round" clip-path="url(#cn)"/><polyline points="1014.8,1042.6 1004.3,1042.6 983.5,1056.5 962.6,1046.1 959.1,1070.4 934.8,1091.3 945.2,1108.7 962.6,1112.2 973,1126.1 959.1,1147 966.1,1167.8 969.6,1188.7 990.4,1167.8 1004.3,1181.7 1014.8,1167.8 1032.2,1164.3 1046.1,1157.4 1067,1150.4 1087.8,1153.9 1108.7,1147 1122.6,1140 1126.1,1119.1 1122.6,1098.3 1108.7,1084.3 1122.6,1063.5 1115.7,1035.7" fill="none" stroke="#5a5a5f" stroke-width="1.9" stroke-linejoin="round" clip-path="url(#cn)"/><polyline points="1122.6,959.1 1129.6,993.9 1150.4,983.5 1164.3,976.5 1185.2,980 1206.1,990.4 1227,987 1247.8,983.5 1258.3,993.9 1261.7,1007.8 1268.7,1028.7 1261.7,1056.5 1268.7,1084.3 1275.7,1112.2 1275.7,1133 1268.7,1147 1247.8,1143.5 1233.9,1153.9 1220,1153.9 1213,1167.8 1192.2,1153.9 1178.3,1133 1185.2,1119.1 1171.3,1115.7 1157.4,1133 1143.5,1143.5 1126.1,1143.5 1122.6,1140" fill="none" stroke="#5a5a5f" stroke-width="1.9" stroke-linejoin="round" clip-path="url(#cn)"/><polyline points="1119.1,865.2 1129.6,879.1 1122.6,893 1143.5,896.5 1157.4,882.6 1171.3,886.1 1192.2,889.6 1213,889.6 1233.9,886.1 1247.8,882.6 1251.3,903.5 1268.7,910.4 1289.6,910.4 1300,924.3 1317.4,934.8 1324.3,952.2 1331.3,973 1317.4,983.5 1296.5,990.4 1275.7,993.9 1261.7,1007.8" fill="none" stroke="#5a5a5f" stroke-width="1.9" stroke-linejoin="round" clip-path="url(#cn)"/><polyline points="1014.8,886.1 1032.2,882.6 1046.1,889.6 1060,900 1080.9,903.5 1087.8,907 1094.8,889.6 1108.7,879.1 1119.1,865.2" fill="none" stroke="#5a5a5f" stroke-width="1.9" stroke-linejoin="round" clip-path="url(#cn)"/><polyline points="1393.9,889.6 1400.9,903.5 1414.8,910.4 1428.7,903.5 1435.7,917.4 1421.7,931.3 1428.7,938.3 1414.8,952.2 1400.9,952.2 1387,966.1 1366.1,969.6 1352.2,973 1331.3,973" fill="none" stroke="#5a5a5f" stroke-width="1.9" stroke-linejoin="round" clip-path="url(#cn)"/><polyline points="1428.7,903.5 1442.6,910.4 1463.5,913.9 1477.4,910.4 1487.8,917.4" fill="none" stroke="#5a5a5f" stroke-width="1.9" stroke-linejoin="round" clip-path="url(#cn)"/><polyline points="1387,966.1 1393.9,987 1407.8,1007.8 1400.9,1028.7 1414.8,1042.6 1435.7,1035.7 1456.5,1046.1 1477.4,1042.6 1491.3,1049.6" fill="none" stroke="#5a5a5f" stroke-width="1.9" stroke-linejoin="round" clip-path="url(#cn)"/><polyline points="1400.9,1028.7 1387,1042.6 1373,1056.5 1366.1,1077.4 1359.1,1098.3 1352.2,1126.1 1345.2,1147 1331.3,1153.9 1310.4,1153.9 1296.5,1167.8 1282.6,1153.9 1268.7,1147" fill="none" stroke="#5a5a5f" stroke-width="1.9" stroke-linejoin="round" clip-path="url(#cn)"/><polyline points="1331.3,1153.9 1352.2,1160.9 1373,1167.8 1387,1188.7 1397.4,1199.1" fill="none" stroke="#5a5a5f" stroke-width="1.9" stroke-linejoin="round" clip-path="url(#cn)"/><polyline points="1213,1167.8 1206.1,1188.7 1199.1,1209.6 1195.7,1230.4 1185.2,1240.9 1171.3,1251.3 1167.8,1268.7 1157.4,1282.6 1150.4,1289.6" fill="none" stroke="#5a5a5f" stroke-width="1.9" stroke-linejoin="round" clip-path="url(#cn)"/><polyline points="969.6,1188.7 980,1202.6 997.4,1199.1 1018.3,1209.6 1021.7,1223.5 1011.3,1230.4" fill="none" stroke="#5a5a5f" stroke-width="1.9" stroke-linejoin="round" clip-path="url(#cn)"/><polyline points="1247.8,882.6 1261.7,872.2 1275.7,875.7 1282.6,861.7 1296.5,854.8 1293,840.9 1282.6,830.4 1289.6,820" fill="none" stroke="#5a5a5f" stroke-width="1.9" stroke-linejoin="round" clip-path="url(#cn)"/><polyline points="934.8,1091.3 927.8,1070.4 934.8,1049.6 941.7,1035.7 962.6,1046.1" fill="none" stroke="#5a5a5f" stroke-width="1.9" stroke-linejoin="round" clip-path="url(#cn)"/><polyline points="1352.2,99.6 1358.3,117.8 1352.2,127 1370.4,136.1 1382.6,130 1391.7,142.2 1400.9,163.5 1419.1,163.5 1437.4,157.4 1446.5,145.2 1458.7,148.3 1470.9,163.5 1467.8,181.7 1461.7,193.9 1464.8,218.3 1458.7,236.5 1455.7,254.8 1458.7,273 1449.6,257.8 1437.4,273 1425.2,288.3 1413,303.5 1419.1,315.7 1431.3,327.8 1440.4,321.7 1443.5,333.9 1431.3,333.9 1434.3,346.1 1443.5,346.1 1455.7,340 1461.7,358.3 1473.9,364.3 1486.1,367.4 1504.3,361.3 1516.5,370.4 1528.7,364.3 1540.9,370.4 1547,382.6 1565.2,394.8 1574.3,397.8 1580.4,382.6 1589.6,394.8 1604.8,410 1620,394.8 1635.2,385.7 1638.3,400.9" fill="none" stroke="#5a5a5f" stroke-width="1.9" stroke-linejoin="round" clip-path="url(#cn)"/><polyline points="1434.3,346.1 1431.3,358.3 1407,361.3 1413,376.5 1425.2,394.8 1425.2,419.1 1443.5,410 1455.7,425.2 1461.7,443.5 1473.9,443.5 1486.1,455.7 1498.3,452.6 1507.4,467.8 1522.6,480 1522.6,498.3 1528.7,515" fill="none" stroke="#5a5a5f" stroke-width="1.9" stroke-linejoin="round" clip-path="url(#cn)"/><polyline points="1473.9,443.5 1467.8,461.7 1449.6,467.8 1437.4,480 1419.1,486.1 1407,498.3 1394.8,507.4 1388.7,515" fill="none" stroke="#5a5a5f" stroke-width="1.9" stroke-linejoin="round" clip-path="url(#cn)"/><polyline points="220,706.2 240,702.5 255,695 271.2,677.5 280,685 295,690 305,685 320,680 330,680 340,687.5 350,695 365,697.5 380,702.5 395,697.5 410,700 425,695 440,687.5 460,685 475,682.5 490,687.5 510,687.5 525,700 540,710 550,703.8 560,707.5" fill="none" stroke="#5a5a5f" stroke-width="1.9" stroke-linejoin="round" clip-path="url(#cn)"/><polyline points="795,960 792.5,975 793.8,1010 782.5,1017.5 787.5,1025 800,1020 802.5,1035 810,1025 817.5,1027.5 825,1042.5 830,1060 840,1055 845,1065 855,1080 860,1095 865,1105 875,1120 880,1127.5 887.5,1130" fill="none" stroke="#5a5a5f" stroke-width="1.9" stroke-linejoin="round" clip-path="url(#cn)"/><polyline points="782.5,1017.5 775,1030 767.5,1042.5 765,1055" fill="none" stroke="#5a5a5f" stroke-width="1.9" stroke-linejoin="round" clip-path="url(#cn)"/><polyline points="940,1095 945,1105 960,1105 970,1115 965,1130 960,1135 965,1150 975,1160 970,1175 965,1185 975,1190 990,1197.5 1000,1200 1015,1205 1020,1215 1010,1225 1002.5,1232.5" fill="none" stroke="#5a5a5f" stroke-width="1.9" stroke-linejoin="round" clip-path="url(#cn)"/><polyline points="460,527.8 480.9,531.3 501.7,548.7 515.7,562.6 524.3,573 526.1,593.9" fill="none" stroke="#2fc3e8" stroke-width="1.4" stroke-linejoin="round" clip-path="url(#cn)"/><polyline points="564.3,830.4 571.3,802.6 592.2,806.1 613,813 633.9,809.6 654.8,799.1 675.7,795.7 696.5,806.1 710.4,820 724.3,837.4 738.3,858.3 748.7,882.6 766.1,900 780,913.9 790.4,934.8" fill="none" stroke="#2fc3e8" stroke-width="1.4" stroke-linejoin="round" clip-path="url(#cn)"/><polyline points="743.5,792.2 759.1,793.9 773,792.2 787,806.1 800.9,820 807.8,837.4 828.7,844.3 846.1,840.9 863.5,844.3 884.3,837.4 898.3,844.3 905.2,854.8 894.8,861.7" fill="none" stroke="#2fc3e8" stroke-width="1.4" stroke-linejoin="round" clip-path="url(#cn)"/><polyline points="842.6,781.7 846.1,764.3 863.5,757.4 884.3,757.4 898.3,767.8 922.6,767.8 947,762.6 960.9,753.9 974.8,733 971.3,715.7 988.7,712.2 1009.6,698.3 1016.5,687.8" fill="none" stroke="#2fc3e8" stroke-width="1.4" stroke-linejoin="round" clip-path="url(#cn)"/><polyline points="667,830.4 672.2,851.3 689.6,868.7 710.4,882.6 731.3,903.5 738.3,920.9 745.2,940" fill="none" stroke="#2fc3e8" stroke-width="1.2" stroke-linejoin="round" clip-path="url(#cn)"/><polyline points="1000,707 1013.9,693 1027.8,665.2 1031.3,623.5 1041.7,595.7 1062.6,585.2 1090.4,588.7 1118.3,595.7 1146.1,602.6 1160,620 1153,644.3 1139.1,672.2 1139.1,713.9 1142.6,762.6 1139.1,797.4 1146.1,811.3 1167,804.3 1194.8,793.9 1236.5,797.4 1271.3,790.4 1285.2,766.1 1306.1,741.7 1327,713.9 1340.9,693 1361.7,679.1 1379.1,672.2" fill="none" stroke="#2fc3e8" stroke-width="1.6" stroke-linejoin="round" clip-path="url(#cn)"/><polyline points="900,1060 920.9,1049.6 941.7,1035.7 969.6,1028.7 1004.3,1021.7 1028.7,1000.9 1046.1,983.5 1063.5,973 1084.3,959.1 1094.8,948.7 1122.6,943.5 1150.4,943.5 1171.3,948.7 1185.2,962.6 1202.6,966.1 1213,980 1227,990.4 1240.9,983.5 1251.3,973 1268.7,952.2 1286.1,952.2 1303.5,966.1 1324.3,973 1345.2,969.6 1352.2,952.2 1366.1,938.3 1380,920.9 1390.4,900 1400.9,882.6 1421.7,875.7 1449.6,875.7 1477.4,882.6 1498.3,889.6" fill="none" stroke="#2fc3e8" stroke-width="1.5" stroke-linejoin="round" clip-path="url(#cn)"/><polyline points="1247.8,882.6 1268.7,889.6 1289.6,882.6 1310.4,875.7 1331.3,868.7 1352.2,854.8 1373,844.3 1393.9,833.9" fill="none" stroke="#2fc3e8" stroke-width="2.2" stroke-linejoin="round" clip-path="url(#cn)"/><polyline points="969.6,1181.7 990.4,1171.3 1018.3,1167.8 1046.1,1153.9 1063.5,1181.7 1073.9,1199.1 1094.8,1206.1 1122.6,1209.6 1150.4,1213 1178.3,1216.5 1199.1,1220 1227,1223.5 1247.8,1230.4 1261.7,1244.3" fill="none" stroke="#2fc3e8" stroke-width="1.3" stroke-linejoin="round" clip-path="url(#cn)"/><polyline points="1288.3,245.7 1303.5,254.8 1321.7,251.7 1340,248.7 1358.3,242.6 1376.5,233.5" fill="none" stroke="#2fc3e8" stroke-width="1.3" stroke-linejoin="round" clip-path="url(#cn)"/><polyline points="317.5,520 340,517.5 360,512.5 377.5,510 390,515 410,517.5 425,513.8 445,520 460,527.5 485,532.5 500,550 515,565 525,575 527.5,592.5 522.5,600" fill="none" stroke="#2fc3e8" stroke-width="1.5" stroke-linejoin="round" clip-path="url(#cn)"/><polyline points="182.5,577.5 195,580 207.5,575 217.5,560 230,545 250,537.5 270,535 290,530 310,525" fill="none" stroke="#2fc3e8" stroke-width="1.2" stroke-linejoin="round" clip-path="url(#cn)"/><polyline points="182.5,577.5 172.5,585 165,600 162.5,615 170,630 185,637.5 200,645 202.5,652.5 195,660 197.5,672.5" fill="none" stroke="#2fc3e8" stroke-width="1.2" stroke-linejoin="round" clip-path="url(#cn)"/><polyline points="757.5,960 770,985 782.5,1010 790,1035 792.5,1065 795,1095 800,1120 807.5,1145 820,1165 830,1180 832.5,1200 822.5,1220 817.5,1240 825,1260 840,1280 850,1295" fill="none" stroke="#2fc3e8" stroke-width="1.3" stroke-linejoin="round" clip-path="url(#cn)"/><polyline points="795,1005 800,1035 807.5,1060 820,1085 832.5,1100 835,1115 850,1122.5 870,1117.5 882.5,1110 890,1105" fill="none" stroke="#2fc3e8" stroke-width="1.2" stroke-linejoin="round" clip-path="url(#cn)"/><polyline points="917.5,1110 912.5,1135 915,1160 920,1185 925,1210 935,1205 945,1190 965,1180 985,1172.5 1000,1172.5 1020,1180" fill="none" stroke="#2fc3e8" stroke-width="1.3" stroke-linejoin="round" clip-path="url(#cn)"/><polyline points="316.2,918.8 330,930 345,945 365,952.5 390,960 420,965 455,970 495,975 530,980 560,985 590,992.5 615,997.5 640,992.5 665,985 677.5,977.5 682.5,990 670,1005 660,1020 670,1040" fill="none" stroke="#2fc3e8" stroke-width="1.3" stroke-linejoin="round" clip-path="url(#cn)"/><polyline points="565,830 567.5,810 572.5,800 595,807.5 625,812.5 650,802.5 670,797.5 690,800 705,815 720,835 740,850" fill="none" stroke="#2fc3e8" stroke-width="1.2" stroke-linejoin="round" clip-path="url(#cn)"/><polygon points="1208,1012 1222,1004 1236,1003 1240,1012 1232,1020 1238,1027 1224,1026 1214,1030 1206,1024 1216,1018" fill="#68c8f6" stroke="#68c8f6" stroke-width="1" stroke-linejoin="round" opacity="0.9"/><polygon points="1331,978 1338,976 1340,990 1347,996 1349,1008 1343,1020 1336,1016 1338,1004 1331,994" fill="#68c8f6" stroke="#68c8f6" stroke-width="1" stroke-linejoin="round" opacity="0.9"/><polygon points="1444,899 1451,895 1458,898 1459,906 1452,912 1446,908" fill="#68c8f6" stroke="#68c8f6" stroke-width="1" stroke-linejoin="round" opacity="0.9"/><polygon points="829,722 838,714 852,713 861,722 862,734 850,740 838,737 830,731" fill="#68c8f6" stroke="#68c8f6" stroke-width="1" stroke-linejoin="round" opacity="0.9"/><polygon points="750,793 758,791 765,795 757,799" fill="#68c8f6" stroke="#68c8f6" stroke-width="1" stroke-linejoin="round" opacity="0.9"/><polygon points="768,797 776,795 779,802 770,803" fill="#68c8f6" stroke="#68c8f6" stroke-width="1" stroke-linejoin="round" opacity="0.9"/><polyline points="1512.5,565 1505,572.5 1495,575 1480,585 1470,595 1460,602.5 1450,612.5 1437.5,622.5 1431.2,625 1432.5,615 1440,605 1432.5,600 1437.5,585 1445,575 1451.2,560 1447.5,550 1437.5,543.8 1427.5,547.5 1417.5,552.5 1410,562.5 1400,575 1390,585 1380,595 1377.5,607.5 1370,615 1355,620 1342.5,627.5 1335,640 1337.5,650 1350,660 1365,661.2 1377.5,665 1385,671.2 1380,677.5 1377.5,685 1387.5,692.5 1400,691.2 1410,680 1417.5,670 1430,665 1442.5,670 1455,667.5 1467.5,667.5 1482.5,668.8 1482.5,680 1475,692.5 1455,700 1442.5,710 1430,722.5 1420,725 1423.8,735 1417.5,745 1410,757.5 1402.5,775 1405,780 1420,787.5 1435,797.5 1445,815 1455,832.5 1465,847.5 1477.5,857.5 1485,870 1495,880 1497.5,890 1490,895 1500,905 1487.5,915 1485,930 1497.5,937.5 1510,940 1505,952.5 1500,965 1502.5,980 1500,990 1495,1000 1490,1015 1485,1035 1480,1050 1472.5,1065 1462.5,1075 1467.5,1090 1462.5,1102.5 1465,1115 1455,1125 1445,1137.5 1435,1147.5 1420,1160 1410,1170 1400,1180 1385,1195 1375,1210 1360,1220 1342.5,1230 1325,1235 1310,1240 1300,1245 1285,1252.5 1275,1240 1272.5,1255 1265,1265 1250,1272.5 1235,1270 1220,1280 1200,1287.5 1185,1295 1175,1302.5 1172.5,1312.5 1165,1310 1167.5,1320 1175,1327.5 1177.5,1332.5 1165,1335 1152.5,1330 1145,1315 1147.5,1300 1150,1292.5 1142.5,1290 1135,1285 1120,1290 1105,1282.5 1090,1290 1085,1292.5 1085,1292.5" fill="none" stroke="#2aa9d6" stroke-width="2" stroke-linejoin="round"/><polygon points="1170,1340 1185,1342.5 1192.5,1352.5 1185,1365 1177.5,1385 1165,1400 1147.5,1410 1130,1407.5 1115,1400 1110,1377.5 1117.5,1362.5 1130,1350 1145,1342.5 1160,1345" fill="none" stroke="#2aa9d6" stroke-width="2" stroke-linejoin="round"/><polygon points="1525.6,1112.8 1532,1113.5 1538.6,1117.1 1541.2,1123.2 1538.6,1131.9 1540.4,1144 1536.9,1161.3 1535.2,1178.6 1533.4,1192.5 1528.2,1206.4 1523,1213.3 1523,1223.7 1523,1235.8 1519.6,1237.6 1516.1,1232.4 1512.7,1223.7 1507.5,1213.3 1497.1,1206.4 1490.1,1199.4 1488.4,1187.3 1490.1,1175.2 1495.3,1161.3 1500.5,1147.5 1507.5,1133.6 1512.7,1123.2 1521.3,1116.3" fill="none" stroke="#2aa9d6" stroke-width="2" stroke-linejoin="round"/><polyline points="1085,1292.5 1075,1287.5 1060,1286.2 1050,1275 1042.5,1262.5 1040,1250 1025,1245 1010,1237.5 1000,1232.5 992.5,1228.8 985,1232.5 975,1237.5 970,1245 960,1245 955,1250 947.5,1252.5 940,1247.5 932.5,1251.2 925,1247.5 915,1257.5 900,1252.5 892.5,1250 885,1260 872.5,1262.5 867.5,1270 870,1285 871.2,1305 860,1305 852.5,1300 852.5,1287.5 845,1282.5 835,1285 825,1290 815,1285 810,1272.5 800,1267.5 785,1263.8 790,1252.5 797.5,1237.5 790,1232.5 780,1225 777.5,1210 772.5,1200 762.5,1197.5 750,1197.5 735,1197.5 737.5,1185 745,1172.5 742.5,1160 760,1150 767.5,1140 775,1122.5 780,1100 780,1077.5 772.5,1070 767.5,1067.5 765,1055 757.5,1042.5 750,1035 745,1035 737.5,1047.5 730,1057.5 720,1052.5 710,1045 700,1040 685,1037.5 670,1047.5 650,1057.5 630,1067.5 622.5,1075 605,1076.2 580,1075 567.5,1075 565,1062.5 555,1045 552.5,1032.5 542.5,1030 535,1027.5 525,1022.5 515,1017.5 500,1015 490,1017.5 480,1027.5 475,1040 470,1045 465,1035 466.2,1015 455,1015 435,1015 420,1012.5 410,1010 395,1002.5 385,1002.5 380,990 365,985 355,972.5 347.5,965 335,957.5 327.5,945 312.5,942.5 305,930 295,920 285,910 280,905 275,895 262.5,886.2 257.5,887.5 250,893.8 245,892.5 240,882.5 225,870 212.5,857.5 200,847.5 190,830 186.2,815 183.8,800 187.5,785 197.5,781.2 200,792.5 210,790 212.5,782.5 210,775 213.8,750 210,730 217.5,725 210,702.5 203.8,677.5 192.5,673.8 175,665 156.2,645 150,622.5 137.5,600 125,590 126.2,586.2 140,586.2 145,575 143.8,550 148.8,542.5 135,535 125,530 122.5,517.5 126.2,500 140,485 170,473.8 187.5,475 193.8,487.5 210,488.8 230,472.5 250,475 260,472.5 290,465 312.5,460 327.5,453.8 330,437.5 340,427.5 343.8,422.5 350,420 352.5,400 352.5,395 352.5,370 351.2,360 345,355 347.5,351.2 392.5,350 402.5,356.2 411.2,357.5 411.2,342.5 420,327.5 430,310 442.5,292.5 455,300 470,305 485,312.5 500,307.5 507.5,306.2 508.8,270 520,263.8 535,257.5 550,243.8 567.5,245 570,255 585,275 602.5,291.2 615,300 623.8,317.5 631.2,340 630,367.5 620,385 621.2,395 630,402.5 657.5,415 682.5,425 710,440 730,446.2 735,460 745,485 755,505 780,505 810,511.2 835,515 860,513.8 885,517.5 900,525 910,532.5 935,541.2 955,547.5 967.5,547.5 972.5,555 982.5,556.2 1000,547.5 1022.5,536.2 1047.5,527.5 1072.5,522.5 1095,521.2 1115,512.5 1135,495 1150,480 1162.5,472.5 1162.5,462.5 1152.5,450 1150,437.5 1155,425 1165,423.8 1185,430 1202.5,430 1220,421.2 1227.5,405 1250,400 1265,380 1282.5,362.5 1295,355 1310,352.5 1325,342.5 1347.5,340 1352.5,335 1347.5,322.5 1335,310 1320,302.5 1305,300 1295,303.8 1285,312.5 1270,310 1255,315 1247.5,315 1241.2,305 1245,290 1252.5,265 1260,240 1287.5,247.5" fill="none" stroke="#222" stroke-width="4.2" stroke-linejoin="round" stroke-linecap="round"/><polyline points="1690,331.2 1660,327.5 1655,340 1645,350 1652.5,365 1660,385 1663.8,400 1662.5,420 1650,428.8 1640,422.5 1632.5,425 1632.5,442.5 1622.5,447.5 1620,460 1605,467.5 1595,472.5 1600,485 1595,490 1580,492.5 1565,485 1557.5,495 1555,510 1545,522.5 1537.5,535 1530,542.5 1517.5,555 1512.5,565" fill="none" stroke="#222" stroke-width="4.2" stroke-linejoin="round" stroke-linecap="round"/><polyline points="1287.5,247.5 1290,246.2 1300,230 1312.5,220 1320,215 1320,202.5 1327.5,185 1335,165 1340,152.5 1342.5,135 1337.5,130 1327.5,125 1332.5,115 1342.5,107.5 1355,101.2 1370,95 1390,87.5 1405,87.5 1425,90 1440,92.5 1455,100 1465,110 1475,120 1480,132.5 1487.5,145 1495,160 1505,172.5 1512.5,185 1517.5,195 1530,202.5 1550,200 1567.5,202.5 1585,207.5 1597.5,212.5 1605,222.5 1610,235 1620,247.5 1635,245 1650,237.5 1660,230 1667.5,220 1680,212.5 1695,200 1702.5,197.5 1703.8,210 1700,222.5 1695,235 1697.5,255 1700,275 1697.5,295 1692.5,310 1690,330 1690,331.2" fill="none" stroke="#2fc3e8" stroke-width="1.6" stroke-linejoin="round"/><polyline points="1350,97.5 1370,88.8 1388.8,82.5" fill="none" stroke="#222" stroke-width="4.2" stroke-linejoin="round" stroke-linecap="butt"/><polyline points="1332.5,187.5 1340,167.5 1348.8,151.2" fill="none" stroke="#222" stroke-width="4.2" stroke-linejoin="round" stroke-linecap="butt"/><polyline points="1478.8,145 1490,162.5 1500,178.8" fill="none" stroke="#222" stroke-width="4.2" stroke-linejoin="round" stroke-linecap="butt"/><polyline points="1602.5,213.8 1612.5,232.5 1622.5,246.2" fill="none" stroke="#222" stroke-width="4.2" stroke-linejoin="round" stroke-linecap="butt"/><polyline points="1696.2,195 1702.5,190 1708.8,193.8 1707.5,205 1702.5,217.5" fill="none" stroke="#222" stroke-width="4.2" stroke-linejoin="round" stroke-linecap="butt"/><polyline points="1658.8,237.5 1672.5,225 1686.2,211.2" fill="none" stroke="#222" stroke-width="4.2" stroke-linejoin="round" stroke-linecap="butt"/><polyline points="1601.2,213.8 1607.5,230 1620,246.2" fill="none" stroke="#222" stroke-width="4.2" stroke-linejoin="round" stroke-linecap="butt"/><polyline points="1691.2,242.5 1692.5,257.5 1690,272.5" fill="none" stroke="#222" stroke-width="4.2" stroke-linejoin="round" stroke-linecap="butt"/><polyline points="1705,282.5 1702.5,302.5 1696.2,320" fill="none" stroke="#222" stroke-width="4.2" stroke-linejoin="round" stroke-linecap="butt"/><polyline points="1650,427.5 1655,437.5 1660,443.8" fill="none" stroke="#222" stroke-width="4.2" stroke-linejoin="round" stroke-linecap="butt"/><g transform="translate(1576.5 1143.5) rotate(-1.5)"><rect x="-6.75" y="-19.5" width="13.5" height="39" fill="#a9a9a9"/><rect x="-6.75" y="-19.5" width="3.2" height="39" fill="#132a4e"/></g><g transform="translate(1559.5 1259) rotate(28)"><rect x="-6.75" y="-22.0" width="13.5" height="44" fill="#a9a9a9"/><rect x="-6.75" y="-22.0" width="3.2" height="44" fill="#132a4e"/></g><g transform="translate(1511 1365) rotate(17)"><rect x="-6.75" y="-21.0" width="13.5" height="42" fill="#a9a9a9"/><rect x="-6.75" y="-21.0" width="3.2" height="42" fill="#132a4e"/></g><text x="1389" y="614.5" font-size="26" fill="#2b9fc9">渤</text><text x="1385" y="668.5" font-size="26" fill="#2b9fc9">海</text><text x="1446" y="773.5" font-size="26" fill="#2b9fc9">黄</text><text x="1500" y="768.5" font-size="26" fill="#2b9fc9">海</text><text x="1535" y="953.5" font-size="26" fill="#2b9fc9">东</text><text x="1584" y="945.5" font-size="26" fill="#2b9fc9">海</text><text x="1325" y="1367.5" font-size="26" fill="#2b9fc9">南</text><text x="1423" y="1357.5" font-size="26" fill="#2b9fc9">海</text><text x="1482" y="1124.5" font-size="10" fill="#3fb2dc">台</text><text x="1472" y="1141.5" font-size="10" fill="#3fb2dc">湾</text><text x="1462" y="1161.5" font-size="10" fill="#3fb2dc">海</text><text x="1451" y="1176.5" font-size="10" fill="#3fb2dc">峡</text><text x="1541" y="1085" font-size="14" fill="#222">钓鱼岛</text><text x="1601" y="1067" font-size="14" fill="#222">赤尾屿</text><text x="1470" y="1229" font-size="14" fill="#222">台湾岛</text><text x="1373" y="1286" font-size="14" fill="#222">东沙群岛</text><text x="1406" y="1312" font-size="14" fill="#222">东沙岛</text><text x="1189" y="1383" font-size="14" fill="#222">海南岛</text><text x="326" y="518.04" font-size="14" fill="#35a6c8" opacity="0.85">塔</text><text x="369" y="510.04" font-size="14" fill="#35a6c8" opacity="0.85">里</text><text x="411" y="515.04" font-size="14" fill="#35a6c8" opacity="0.85">木</text><text x="462" y="520.04" font-size="14" fill="#35a6c8" opacity="0.85">河</text><text x="344.5" y="945.4" font-size="15" fill="#35a6c8" opacity="0.85">雅</text><text x="402.5" y="957.4" font-size="15" fill="#35a6c8" opacity="0.85">鲁</text><text x="454.5" y="960.4" font-size="15" fill="#35a6c8" opacity="0.85">藏</text><text x="517.5" y="969.4" font-size="15" fill="#35a6c8" opacity="0.85">布</text><text x="587.5" y="986.4" font-size="15" fill="#35a6c8" opacity="0.85">江</text><text x="1437" y="127.32" font-size="12" fill="#35a6c8" opacity="0.85">黑</text><text x="1478" y="190.32" font-size="12" fill="#35a6c8" opacity="0.85">龙</text><text x="1559" y="236.32" font-size="12" fill="#35a6c8" opacity="0.85">江</text><text x="818.5" y="814.4" font-size="15" fill="#35a6c8" opacity="0.85">黄</text><text x="1150.5" y="715.12" font-size="17" fill="#35a6c8" opacity="0.85">黄</text><text x="1242.5" y="784.12" font-size="17" fill="#35a6c8" opacity="0.85">河</text><text x="1401.5" y="807.96" font-size="11" fill="#35a6c8" opacity="0.85">河</text><text x="934.5" y="746.12" font-size="17" fill="#35a6c8" opacity="0.85">河</text><text x="1095.5" y="944.12" font-size="17" fill="#35a6c8" opacity="0.85">长</text><text x="1339.5" y="931.12" font-size="17" fill="#35a6c8" opacity="0.85">江</text><text x="1247" y="872.32" font-size="12" fill="#35a6c8" opacity="0.85">淮</text><text x="765" y="882.04" font-size="14" fill="#35a6c8" opacity="0.85">金</text><text x="804" y="1002.04" font-size="14" fill="#35a6c8" opacity="0.85">沙</text><text x="746" y="1008.04" font-size="14" fill="#35a6c8" opacity="0.85">沧</text><text x="839" y="1101.32" font-size="12" fill="#35a6c8" opacity="0.85">江</text><text x="777" y="1166.32" font-size="12" fill="#35a6c8" opacity="0.85">江</text><text x="694.5" y="899.68" font-size="13" fill="#35a6c8" opacity="0.85">澜</text><circle cx="531" cy="436" r="4.2" fill="#e8e8e8" stroke="#222" stroke-width="1.1"/><circle cx="531" cy="436" r="2.10" fill="#222"/><text x="543" y="445.3" font-size="20.5" fill="#111">乌鲁木齐</text><circle cx="1524" cy="344" r="4.2" fill="#e8e8e8" stroke="#222" stroke-width="1.1"/><circle cx="1524" cy="344" r="2.10" fill="#222"/><text x="1488" y="332.3" font-size="20.5" fill="#111">哈尔滨</text><circle cx="1509" cy="422" r="4.2" fill="#e8e8e8" stroke="#222" stroke-width="1.1"/><circle cx="1509" cy="422" r="2.10" fill="#222"/><text x="1521" y="425.3" font-size="20.5" fill="#111">长春</text><circle cx="1474" cy="504" r="4.2" fill="#e8e8e8" stroke="#222" stroke-width="1.1"/><circle cx="1474" cy="504" r="2.10" fill="#222"/><text x="1483" y="509.3" font-size="20.5" fill="#111">沈阳</text><circle cx="1166" cy="578" r="4.2" fill="#e8e8e8" stroke="#222" stroke-width="1.1"/><circle cx="1166" cy="578" r="2.10" fill="#222"/><text x="1121" y="560.3" font-size="20.5" fill="#111">呼和浩特</text><circle cx="1321" cy="629" r="4.2" fill="#e8e8e8" stroke="#222" stroke-width="1.1"/><circle cx="1321" cy="629" r="2.10" fill="#222"/><text x="1335" y="638.3" font-size="20.5" fill="#111">天津</text><circle cx="1251" cy="676" r="4.2" fill="#e8e8e8" stroke="#222" stroke-width="1.1"/><circle cx="1251" cy="676" r="2.10" fill="#222"/><text x="1233" y="661.3" font-size="20.5" fill="#111">石家庄</text><circle cx="1195" cy="687" r="4.2" fill="#e8e8e8" stroke="#222" stroke-width="1.1"/><circle cx="1195" cy="687" r="2.10" fill="#222"/><text x="1175" y="719.3" font-size="20.5" fill="#111">太原</text><circle cx="1327" cy="719" r="4.2" fill="#e8e8e8" stroke="#222" stroke-width="1.1"/><circle cx="1327" cy="719" r="2.10" fill="#222"/><text x="1343" y="724.3" font-size="20.5" fill="#111">济南</text><circle cx="1017" cy="672" r="4.2" fill="#e8e8e8" stroke="#222" stroke-width="1.1"/><circle cx="1017" cy="672" r="2.10" fill="#222"/><text x="1037" y="679.3" font-size="20.5" fill="#111">银川</text><circle cx="889" cy="740" r="4.2" fill="#e8e8e8" stroke="#222" stroke-width="1.1"/><circle cx="889" cy="740" r="2.10" fill="#222"/><text x="861" y="728.3" font-size="20.5" fill="#111">西宁</text><circle cx="948" cy="762" r="4.2" fill="#e8e8e8" stroke="#222" stroke-width="1.1"/><circle cx="948" cy="762" r="2.10" fill="#222"/><text x="930" y="793.3" font-size="20.5" fill="#111">兰州</text><circle cx="1099" cy="824" r="4.2" fill="#e8e8e8" stroke="#222" stroke-width="1.1"/><circle cx="1099" cy="824" r="2.10" fill="#222"/><text x="1078" y="813.3" font-size="20.5" fill="#111">西安</text><circle cx="1237" cy="800" r="4.2" fill="#e8e8e8" stroke="#222" stroke-width="1.1"/><circle cx="1237" cy="800" r="2.10" fill="#222"/><text x="1217" y="827.3" font-size="20.5" fill="#111">郑州</text><circle cx="564" cy="961" r="4.2" fill="#e8e8e8" stroke="#222" stroke-width="1.1"/><circle cx="564" cy="961" r="2.10" fill="#222"/><text x="547" y="946.3" font-size="20.5" fill="#111">拉萨</text><circle cx="953" cy="965" r="4.2" fill="#e8e8e8" stroke="#222" stroke-width="1.1"/><circle cx="953" cy="965" r="2.10" fill="#222"/><text x="931" y="947.3" font-size="20.5" fill="#111">成都</text><circle cx="1271" cy="951" r="4.2" fill="#e8e8e8" stroke="#222" stroke-width="1.1"/><circle cx="1271" cy="951" r="2.10" fill="#222"/><text x="1224" y="962.3" font-size="20.5" fill="#111">武汉</text><circle cx="1355" cy="896" r="4.2" fill="#e8e8e8" stroke="#222" stroke-width="1.1"/><circle cx="1355" cy="896" r="2.10" fill="#222"/><text x="1332" y="879.3" font-size="20.5" fill="#111">合肥</text><circle cx="1401" cy="881" r="4.2" fill="#e8e8e8" stroke="#222" stroke-width="1.1"/><circle cx="1401" cy="881" r="2.10" fill="#222"/><text x="1413" y="881.3" font-size="20.5" fill="#111">南京</text><circle cx="1487" cy="899" r="4.2" fill="#e8e8e8" stroke="#222" stroke-width="1.1"/><circle cx="1487" cy="899" r="2.10" fill="#222"/><text x="1497" y="904.3" font-size="20.5" fill="#111">上海</text><circle cx="1447" cy="943" r="4.2" fill="#e8e8e8" stroke="#222" stroke-width="1.1"/><circle cx="1447" cy="943" r="2.10" fill="#222"/><text x="1433" y="977.3" font-size="20.5" fill="#111">杭州</text><circle cx="1031" cy="1002" r="4.2" fill="#e8e8e8" stroke="#222" stroke-width="1.1"/><circle cx="1031" cy="1002" r="2.10" fill="#222"/><text x="1041" y="1001.3" font-size="20.5" fill="#111">重庆</text><circle cx="1235" cy="1041" r="4.2" fill="#e8e8e8" stroke="#222" stroke-width="1.1"/><circle cx="1235" cy="1041" r="2.10" fill="#222"/><text x="1196" y="1068.3" font-size="20.5" fill="#111">长沙</text><circle cx="1326" cy="1016" r="4.2" fill="#e8e8e8" stroke="#222" stroke-width="1.1"/><circle cx="1326" cy="1016" r="2.10" fill="#222"/><text x="1308" y="1049.3" font-size="20.5" fill="#111">南昌</text><circle cx="1035" cy="1108" r="4.2" fill="#e8e8e8" stroke="#222" stroke-width="1.1"/><circle cx="1035" cy="1108" r="2.10" fill="#222"/><text x="1043" y="1117.3" font-size="20.5" fill="#111">贵阳</text><circle cx="1448" cy="1096" r="4.2" fill="#e8e8e8" stroke="#222" stroke-width="1.1"/><circle cx="1448" cy="1096" r="2.10" fill="#222"/><text x="1395" y="1109.3" font-size="20.5" fill="#111">福州</text><circle cx="910" cy="1172" r="4.2" fill="#e8e8e8" stroke="#222" stroke-width="1.1"/><circle cx="910" cy="1172" r="2.10" fill="#222"/><text x="860" y="1182.3" font-size="20.5" fill="#111">昆明</text><circle cx="1527" cy="1122" r="4.2" fill="#e8e8e8" stroke="#222" stroke-width="1.1"/><circle cx="1527" cy="1122" r="2.10" fill="#222"/><text x="1511" y="1155.3" font-size="20.5" fill="#111">台北</text><circle cx="1261" cy="1225" r="4.2" fill="#e8e8e8" stroke="#222" stroke-width="1.1"/><circle cx="1261" cy="1225" r="2.10" fill="#222"/><text x="1239" y="1217.3" font-size="20.5" fill="#111">广州</text><circle cx="1096" cy="1246" r="4.2" fill="#e8e8e8" stroke="#222" stroke-width="1.1"/><circle cx="1096" cy="1246" r="2.10" fill="#222"/><text x="1106" y="1253.3" font-size="20.5" fill="#111">南宁</text><circle cx="1294" cy="1253" r="4.2" fill="#e8e8e8" stroke="#222" stroke-width="1.1"/><circle cx="1294" cy="1253" r="2.10" fill="#222"/><text x="1311" y="1260.3" font-size="20.5" fill="#111">香港</text><circle cx="1273" cy="1258" r="4.2" fill="#e8e8e8" stroke="#222" stroke-width="1.1"/><circle cx="1273" cy="1258" r="2.10" fill="#222"/><text x="1256" y="1290.3" font-size="20.5" fill="#111">澳门</text><circle cx="1169" cy="1351" r="4.2" fill="#e8e8e8" stroke="#222" stroke-width="1.1"/><circle cx="1169" cy="1351" r="2.10" fill="#222"/><text x="1187" y="1353.3" font-size="20.5" fill="#111">海口</text><circle cx="1296" cy="602" r="8.5" fill="none" stroke="#e02020" stroke-width="1"/><polygon points="1296.0,595.7 1297.5,600.0 1302.0,600.1 1298.4,602.8 1299.7,607.1 1296.0,604.5 1292.3,607.1 1293.6,602.8 1290.0,600.1 1294.5,600.0" fill="#e02020"/><text x="1267" y="585" font-size="29" fill="#e02020">北京</text><text class="mono" y="1401" font-size="19.6" fill="#8a8a8a" x="388 407.6 427.2 446.8 466.4 476.2 486 505.6 525.2 535 544.8 554.6 564.4 584 593.8 603.6 613.4 623.2">审图号：GS京（2024）0275号</text><text class="mono" y="1437" font-size="19.6" fill="#8a8a8a"><tspan x="388">比例尺 </tspan><tspan x="456.6 466.4">1: </tspan><tspan x="486 495.8">20 </tspan><tspan x="515.4 525.2 535">000 </tspan><tspan x="554.6 564.4 574.2">000</tspan></text><defs><clipPath id="icl"><polygon points="101.1,1032.5 312.3,1032.5 308.1,1041.6 299.8,1055.4 288.7,1066.5 283.2,1077.6 272.1,1084.5 261.1,1090 250,1097.5 238.9,1103.1 230.6,1108 216.8,1111.4 205.7,1113 190.5,1114.1 187.7,1121.9 191.9,1129.6 187.7,1133.5 180.8,1132.4 177.5,1121.9 175.8,1115.2 164.2,1115.2 154.5,1116.3 147.6,1113.6 136.5,1109.4 131,1099.7 125.4,1092.8 117.1,1090 108.8,1094.2 101.1,1097.5"/><polygon points="178,1137.1 189.1,1138.5 192.4,1144 189.1,1152.3 183.6,1160.6 175.3,1164.8 167,1162 162.8,1155.1 164.2,1146.8 169.7,1141.2"/><polygon points="339.1,1040.2 343.3,1044.9 342.2,1058.2 339.7,1072.1 336.6,1084.5 334.1,1092 331.9,1088.1 328.6,1080.4 325.3,1072.1 324.2,1063.7 327.5,1052.7 333,1044.4"/></clipPath><clipPath id="ifr"><rect x="101" y="1032.5" width="280" height="399.5"/></clipPath></defs><g clip-path="url(#ifr)"><polyline points="157.3,1120.5 154.5,1116.3 147.6,1113.6 136.5,1109.4 131,1099.7 125.4,1092.8 117.1,1090 108.8,1094.2 101.1,1097.5 95,1099.7" fill="none" stroke="#a9a9a9" stroke-width="15" stroke-linejoin="round"/><g clip-path="url(#icl)"><g filter="url(#fld2)"><polygon points="95,1025 316.4,1025 316.4,1135.7 95,1135.7" fill="#626262"/><polygon points="101.1,1074.8 122.7,1088.7 150.4,1108 178,1115.2 205.7,1113 238.9,1103.1 272.1,1084.5 299.8,1055.4 312.3,1032.5 299.8,1032.5 286,1052.7 261.1,1077.6 233.4,1094.2 205.7,1105.3 178,1108 150.4,1099.7 128.2,1083.1 101.1,1066.5" fill="#707070"/><polygon points="175.8,1115.2 190.5,1114.1 191.9,1130.2 180.8,1132.4" fill="#8e8e8e"/><polygon points="101.1,1032.5 305.4,1032.5 288.7,1052.7 261.1,1072.1 233.4,1085.9 205.7,1094.2 178,1094.2 150.4,1085.9 131,1069.3 101.1,1058.2" fill="#525252"/><polygon points="122.7,1032.5 294.3,1032.5 277.7,1052.7 250,1066.5 222.3,1074.8 194.6,1077.6 167,1072.1 144.8,1061 128.2,1047.1" fill="#444444"/><polygon points="136.5,1032.5 272.1,1032.5 261.1,1047.1 244.5,1058.2 216.8,1063.7 194.6,1061 178,1063.7 161.4,1055.4 144.8,1044.4" fill="#343434"/><polygon points="191.9,1032.5 261.1,1032.5 250,1044.4 227.9,1052.7 205.7,1049.9" fill="#262626"/><polygon points="101.1,1032.5 122.7,1032.5 117.1,1052.7 101.1,1063.7" fill="#707070"/><polygon points="158.7,1134.3 194.6,1134.3 194.6,1167.5 158.7,1167.5" fill="#808080"/><polygon points="165.6,1155.1 178,1156.5 175.3,1163.4 167.5,1161.2" fill="#9e9e9e"/><polygon points="319.2,1037.5 345.5,1037.5 345.5,1094.2 319.2,1094.2" fill="#707070"/><polygon points="328.9,1058.2 335.8,1055.4 336.4,1074.8 330.3,1080.4" fill="#808080"/></g></g><polygon points="101.1,1032.5 312.3,1032.5 308.1,1041.6 299.8,1055.4 288.7,1066.5 283.2,1077.6 272.1,1084.5 261.1,1090 250,1097.5 238.9,1103.1 230.6,1108 216.8,1111.4 205.7,1113 190.5,1114.1 187.7,1121.9 191.9,1129.6 187.7,1133.5 180.8,1132.4 177.5,1121.9 175.8,1115.2 164.2,1115.2 154.5,1116.3 147.6,1113.6 136.5,1109.4 131,1099.7 125.4,1092.8 117.1,1090 108.8,1094.2 101.1,1097.5" fill="none" stroke="#2aa9d6" stroke-width="0.9"/><polygon points="178,1137.1 189.1,1138.5 192.4,1144 189.1,1152.3 183.6,1160.6 175.3,1164.8 167,1162 162.8,1155.1 164.2,1146.8 169.7,1141.2" fill="none" stroke="#2aa9d6" stroke-width="0.9"/><polygon points="339.1,1040.2 343.3,1044.9 342.2,1058.2 339.7,1072.1 336.6,1084.5 334.1,1092 331.9,1088.1 328.6,1080.4 325.3,1072.1 324.2,1063.7 327.5,1052.7 333,1044.4" fill="none" stroke="#2aa9d6" stroke-width="0.9"/><polyline points="154.5,1116.3 147.6,1113.6 136.5,1109.4 131,1099.7 125.4,1092.8 117.1,1090 108.8,1094.2 101.1,1097.5 95,1099.7" fill="none" stroke="#222" stroke-width="2.6" stroke-linejoin="round"/><polyline points="136.5,1032.5 139.3,1047.1 133.7,1058.2 142.1,1066.5 136.5,1080.4 150.4,1088.7" fill="none" stroke="#666" stroke-width="1.3"/><polyline points="205.7,1032.5 200.2,1044.4 208.5,1055.4 205.7,1069.3 200.2,1085.9 186.3,1108" fill="none" stroke="#666" stroke-width="1.3"/><polyline points="261.1,1032.5 258.3,1049.9 272.1,1061 283.2,1066.5" fill="none" stroke="#666" stroke-width="1.3"/><polyline points="194.6,1041.6 178,1049.9 164.2,1047.1 144.8,1052.7" fill="none" stroke="#666" stroke-width="1.3"/><g transform="translate(361.3 1052.1) rotate(-3)"><rect x="-6.25" y="-8.5" width="12.5" height="17" fill="#a9a9a9"/><rect x="-6.25" y="-8.5" width="2.6" height="17" fill="#132a4e"/></g><g transform="translate(353.8 1101.7) rotate(28)"><rect x="-6.25" y="-8.5" width="12.5" height="17" fill="#a9a9a9"/><rect x="-6.25" y="-8.5" width="2.6" height="17" fill="#132a4e"/></g><g transform="translate(334.4 1146.0) rotate(15)"><rect x="-6.25" y="-8.5" width="12.5" height="17" fill="#a9a9a9"/><rect x="-6.25" y="-8.5" width="2.6" height="17" fill="#132a4e"/></g><g transform="translate(333.0 1192.5) rotate(-6)"><rect x="-6.25" y="-8.5" width="12.5" height="17" fill="#a9a9a9"/><rect x="-6.25" y="-8.5" width="2.6" height="17" fill="#132a4e"/></g><g transform="translate(337.7 1252.5) rotate(15)"><rect x="-6.25" y="-8.5" width="12.5" height="17" fill="#a9a9a9"/><rect x="-6.25" y="-8.5" width="2.6" height="17" fill="#132a4e"/></g><g transform="translate(296.2 1314.8) rotate(42)"><rect x="-6.25" y="-8.5" width="12.5" height="17" fill="#a9a9a9"/><rect x="-6.25" y="-8.5" width="2.6" height="17" fill="#132a4e"/></g><g transform="translate(234.8 1376.5) rotate(76)"><rect x="-6.25" y="-8.5" width="12.5" height="17" fill="#a9a9a9"/><rect x="-6.25" y="-8.5" width="2.6" height="17" fill="#132a4e"/></g><g transform="translate(154.5 1331.7) rotate(-8)"><rect x="-6.25" y="-8.5" width="12.5" height="17" fill="#a9a9a9"/><rect x="3.65" y="-8.5" width="2.6" height="17" fill="#132a4e"/></g><g transform="translate(187.7 1256.9) rotate(15)"><rect x="-6.25" y="-8.5" width="12.5" height="17" fill="#a9a9a9"/><rect x="3.65" y="-8.5" width="2.6" height="17" fill="#132a4e"/></g><g transform="translate(174.4 1199.9) rotate(-30)"><rect x="-6.25" y="-8.5" width="12.5" height="17" fill="#a9a9a9"/><rect x="3.65" y="-8.5" width="2.6" height="17" fill="#132a4e"/></g><circle cx="235.8" cy="1308.8" r="0.66" fill="#45b8f0"/><circle cx="301.5" cy="1270.2" r="0.83" fill="#45b8f0"/><circle cx="187.7" cy="1315.0" r="0.66" fill="#45b8f0"/><circle cx="268.1" cy="1284.8" r="0.83" fill="#45b8f0"/><circle cx="263.6" cy="1271.5" r="1.11" fill="#45b8f0"/><circle cx="194.9" cy="1327.9" r="0.83" fill="#45b8f0"/><circle cx="226.2" cy="1301.3" r="0.94" fill="#45b8f0"/><circle cx="255.8" cy="1273.1" r="0.83" fill="#45b8f0"/><circle cx="230.4" cy="1289.6" r="0.66" fill="#45b8f0"/><circle cx="253.2" cy="1274.8" r="0.94" fill="#45b8f0"/><circle cx="253.8" cy="1279.2" r="0.83" fill="#45b8f0"/><circle cx="285.2" cy="1254.0" r="0.94" fill="#45b8f0"/><circle cx="264.3" cy="1266.5" r="0.94" fill="#45b8f0"/><circle cx="274.3" cy="1281.8" r="0.83" fill="#45b8f0"/><circle cx="289.2" cy="1277.1" r="0.66" fill="#45b8f0"/><circle cx="319.8" cy="1259.2" r="0.94" fill="#45b8f0"/><circle cx="223.0" cy="1304.8" r="1.11" fill="#45b8f0"/><circle cx="201.5" cy="1316.5" r="0.66" fill="#45b8f0"/><circle cx="189.9" cy="1294.4" r="1.11" fill="#45b8f0"/><circle cx="211.7" cy="1308.9" r="0.66" fill="#45b8f0"/><circle cx="297.9" cy="1266.6" r="1.11" fill="#45b8f0"/><circle cx="194.4" cy="1305.2" r="0.83" fill="#45b8f0"/><circle cx="246.8" cy="1281.9" r="0.83" fill="#45b8f0"/><circle cx="224.4" cy="1277.9" r="1.11" fill="#45b8f0"/><circle cx="294.6" cy="1270.9" r="0.94" fill="#45b8f0"/><circle cx="268.1" cy="1276.4" r="0.66" fill="#45b8f0"/><circle cx="209.6" cy="1312.9" r="1.11" fill="#45b8f0"/><circle cx="295.4" cy="1269.6" r="0.83" fill="#45b8f0"/><circle cx="231.1" cy="1299.6" r="0.83" fill="#45b8f0"/><circle cx="260.9" cy="1268.1" r="0.66" fill="#45b8f0"/><circle cx="260.9" cy="1263.0" r="1.11" fill="#45b8f0"/><circle cx="228.3" cy="1298.0" r="1.11" fill="#45b8f0"/><circle cx="200.3" cy="1315.0" r="0.83" fill="#45b8f0"/><circle cx="196.7" cy="1304.9" r="0.83" fill="#45b8f0"/><circle cx="267.3" cy="1274.6" r="0.66" fill="#45b8f0"/><circle cx="293.5" cy="1252.9" r="0.94" fill="#45b8f0"/><circle cx="299.2" cy="1243.7" r="0.66" fill="#45b8f0"/><circle cx="305.3" cy="1258.6" r="1.11" fill="#45b8f0"/><circle cx="236.0" cy="1311.2" r="0.94" fill="#45b8f0"/><circle cx="243.1" cy="1269.8" r="0.83" fill="#45b8f0"/><circle cx="302.0" cy="1251.2" r="0.66" fill="#45b8f0"/><circle cx="278.7" cy="1282.3" r="0.66" fill="#45b8f0"/><circle cx="274.3" cy="1281.2" r="0.83" fill="#45b8f0"/><circle cx="233.7" cy="1307.3" r="0.94" fill="#45b8f0"/><circle cx="254.4" cy="1259.0" r="0.83" fill="#45b8f0"/><circle cx="295.6" cy="1243.5" r="0.83" fill="#45b8f0"/><circle cx="196.1" cy="1303.3" r="0.66" fill="#45b8f0"/><circle cx="280.7" cy="1264.6" r="0.94" fill="#45b8f0"/><circle cx="269.9" cy="1271.6" r="0.94" fill="#45b8f0"/><circle cx="205.3" cy="1318.7" r="0.94" fill="#45b8f0"/><circle cx="197.6" cy="1283.2" r="0.66" fill="#45b8f0"/><circle cx="237.4" cy="1265.5" r="0.66" fill="#45b8f0"/><circle cx="299.6" cy="1268.6" r="0.83" fill="#45b8f0"/><circle cx="254.6" cy="1303.7" r="0.94" fill="#45b8f0"/><circle cx="212.0" cy="1303.2" r="1.11" fill="#45b8f0"/><circle cx="252.1" cy="1282.4" r="0.83" fill="#45b8f0"/><circle cx="325.5" cy="1252.5" r="1.11" fill="#45b8f0"/><circle cx="300.0" cy="1280.6" r="1.11" fill="#45b8f0"/><circle cx="262.8" cy="1284.6" r="0.83" fill="#45b8f0"/><circle cx="193.8" cy="1295.1" r="0.66" fill="#45b8f0"/><circle cx="262.8" cy="1275.3" r="0.83" fill="#45b8f0"/><circle cx="293.3" cy="1269.9" r="0.94" fill="#45b8f0"/><circle cx="250.9" cy="1271.3" r="1.11" fill="#45b8f0"/><circle cx="307.3" cy="1267.8" r="1.11" fill="#45b8f0"/><circle cx="275.3" cy="1257.8" r="0.83" fill="#45b8f0"/><circle cx="252.2" cy="1279.9" r="1.11" fill="#45b8f0"/><circle cx="272.2" cy="1250.5" r="0.83" fill="#45b8f0"/><circle cx="192.9" cy="1307.5" r="0.66" fill="#45b8f0"/><circle cx="215.6" cy="1292.1" r="0.66" fill="#45b8f0"/><circle cx="304.7" cy="1259.8" r="0.66" fill="#45b8f0"/><circle cx="272.2" cy="1263.5" r="0.66" fill="#45b8f0"/><circle cx="234.0" cy="1276.6" r="0.83" fill="#45b8f0"/><circle cx="263.1" cy="1274.1" r="1.11" fill="#45b8f0"/><circle cx="251.2" cy="1297.0" r="0.94" fill="#45b8f0"/><circle cx="308.9" cy="1249.1" r="1.11" fill="#45b8f0"/><circle cx="211.4" cy="1315.8" r="0.66" fill="#45b8f0"/><circle cx="265.8" cy="1274.8" r="0.94" fill="#45b8f0"/><circle cx="290.6" cy="1259.2" r="0.94" fill="#45b8f0"/><circle cx="223.3" cy="1284.2" r="0.83" fill="#45b8f0"/><circle cx="298.1" cy="1280.5" r="0.83" fill="#45b8f0"/><circle cx="315.2" cy="1243.4" r="1.11" fill="#45b8f0"/><circle cx="304.6" cy="1257.0" r="0.94" fill="#45b8f0"/><circle cx="226.6" cy="1292.0" r="1.11" fill="#45b8f0"/><circle cx="251.1" cy="1287.6" r="0.94" fill="#45b8f0"/><circle cx="277.4" cy="1295.8" r="0.83" fill="#45b8f0"/><circle cx="316.1" cy="1257.1" r="0.66" fill="#45b8f0"/><circle cx="308.5" cy="1274.4" r="1.11" fill="#45b8f0"/><circle cx="284.0" cy="1232.3" r="1.11" fill="#45b8f0"/><circle cx="216.4" cy="1297.8" r="0.94" fill="#45b8f0"/><circle cx="211.6" cy="1316.4" r="1.11" fill="#45b8f0"/><circle cx="300.1" cy="1258.4" r="0.66" fill="#45b8f0"/><circle cx="304.9" cy="1274.7" r="0.66" fill="#45b8f0"/><circle cx="221.1" cy="1299.4" r="1.11" fill="#45b8f0"/><circle cx="303.7" cy="1260.6" r="0.83" fill="#45b8f0"/><circle cx="313.2" cy="1251.4" r="0.83" fill="#45b8f0"/><circle cx="208.9" cy="1312.0" r="0.83" fill="#45b8f0"/><circle cx="217.2" cy="1296.4" r="0.94" fill="#45b8f0"/><circle cx="291.3" cy="1262.1" r="0.66" fill="#45b8f0"/><circle cx="273.7" cy="1264.4" r="1.11" fill="#45b8f0"/><circle cx="204.2" cy="1305.3" r="1.11" fill="#45b8f0"/><circle cx="250.5" cy="1264.6" r="0.94" fill="#45b8f0"/><circle cx="282.7" cy="1268.7" r="0.83" fill="#45b8f0"/><circle cx="236.0" cy="1292.1" r="0.83" fill="#45b8f0"/><circle cx="174.1" cy="1296.5" r="1.11" fill="#45b8f0"/><circle cx="223.1" cy="1316.9" r="0.94" fill="#45b8f0"/><circle cx="261.5" cy="1272.3" r="0.83" fill="#45b8f0"/><circle cx="199.3" cy="1308.4" r="0.94" fill="#45b8f0"/><circle cx="303.2" cy="1248.3" r="0.94" fill="#45b8f0"/><circle cx="217.7" cy="1311.4" r="0.66" fill="#45b8f0"/><circle cx="240.3" cy="1283.9" r="0.66" fill="#45b8f0"/><circle cx="200.1" cy="1303.2" r="0.66" fill="#45b8f0"/><circle cx="232.3" cy="1306.2" r="0.66" fill="#45b8f0"/><circle cx="245.0" cy="1272.9" r="1.11" fill="#45b8f0"/><circle cx="281.6" cy="1250.6" r="0.94" fill="#45b8f0"/><circle cx="276.7" cy="1264.6" r="1.11" fill="#45b8f0"/><circle cx="281.8" cy="1260.6" r="0.66" fill="#45b8f0"/><circle cx="273.9" cy="1247.5" r="0.83" fill="#45b8f0"/><circle cx="210.5" cy="1314.6" r="0.66" fill="#45b8f0"/><circle cx="231.3" cy="1291.8" r="0.66" fill="#45b8f0"/><circle cx="261.3" cy="1260.9" r="0.66" fill="#45b8f0"/><circle cx="235.3" cy="1343.9" r="0.69" fill="#45b8f0"/><circle cx="240.5" cy="1337.9" r="0.69" fill="#45b8f0"/><circle cx="238.4" cy="1347.4" r="0.69" fill="#45b8f0"/><circle cx="236.1" cy="1336.4" r="0.69" fill="#45b8f0"/><circle cx="237.7" cy="1332.3" r="0.69" fill="#45b8f0"/><circle cx="236.5" cy="1353.5" r="0.69" fill="#45b8f0"/><circle cx="236.5" cy="1352.1" r="0.69" fill="#45b8f0"/><circle cx="232.0" cy="1346.2" r="0.69" fill="#45b8f0"/><circle cx="240.5" cy="1349.5" r="0.69" fill="#45b8f0"/><circle cx="236.0" cy="1345.1" r="0.69" fill="#45b8f0"/><circle cx="235.2" cy="1340.3" r="0.69" fill="#45b8f0"/><circle cx="234.5" cy="1340.1" r="0.69" fill="#45b8f0"/><circle cx="234.2" cy="1335.7" r="0.69" fill="#45b8f0"/><circle cx="235.3" cy="1341.0" r="0.69" fill="#45b8f0"/><circle cx="208.9" cy="1186.1" r="0.69" fill="#45b8f0"/><circle cx="219.9" cy="1185.2" r="0.69" fill="#45b8f0"/><circle cx="218.4" cy="1190.2" r="0.69" fill="#45b8f0"/><circle cx="215.3" cy="1182.2" r="0.69" fill="#45b8f0"/><circle cx="205.2" cy="1187.0" r="0.69" fill="#45b8f0"/><circle cx="225.5" cy="1185.3" r="0.69" fill="#45b8f0"/><circle cx="215.7" cy="1187.2" r="0.69" fill="#45b8f0"/><circle cx="211.1" cy="1186.1" r="0.69" fill="#45b8f0"/><circle cx="224.1" cy="1187.8" r="0.69" fill="#45b8f0"/><circle cx="238.9" cy="1185.1" r="0.69" fill="#45b8f0"/><circle cx="268.0" cy="1114.4" r="1.11" fill="#45b8f0"/><circle cx="280.4" cy="1118.6" r="1.11" fill="#45b8f0"/><circle cx="304.8" cy="1198.0" r="1.11" fill="#45b8f0"/><circle cx="286.5" cy="1182.2" r="0.83" fill="#45b8f0"/><circle cx="270.2" cy="1219.6" r="0.83" fill="#45b8f0"/><circle cx="226.5" cy="1141.2" r="0.69" fill="#45b8f0"/><circle cx="239.5" cy="1144.6" r="0.69" fill="#45b8f0"/><circle cx="345.5" cy="1088.7" r="1.11" fill="#45b8f0"/><circle cx="245.8" cy="1330.8" r="0.69" fill="#45b8f0"/><ellipse cx="251.4" cy="1193.8" rx="8" ry="3.6" transform="rotate(-28 251.4 1193.8)" fill="none" stroke="#45b8f0" stroke-width="1.6" stroke-dasharray="2.5 1"/><circle cx="157.3" cy="1095.6" r="2.6" fill="#ddd" stroke="#222" stroke-width="0.7"/><circle cx="157.3" cy="1095.6" r="1.2" fill="#222"/><circle cx="225.9" cy="1086.4" r="2.6" fill="#ddd" stroke="#222" stroke-width="0.7"/><circle cx="225.9" cy="1086.4" r="1.2" fill="#222"/><circle cx="239.5" cy="1098.3" r="2.6" fill="#ddd" stroke="#222" stroke-width="0.7"/><circle cx="239.5" cy="1098.3" r="1.2" fill="#222"/><circle cx="225.1" cy="1101.1" r="2.6" fill="#ddd" stroke="#222" stroke-width="0.7"/><circle cx="225.1" cy="1101.1" r="1.2" fill="#222"/><circle cx="187.7" cy="1139.3" r="2.6" fill="#ddd" stroke="#222" stroke-width="0.7"/><circle cx="187.7" cy="1139.3" r="1.2" fill="#222"/><text x="169.7" y="1099.2" font-size="8.5" fill="#222" opacity="0.75">南宁</text><text x="204.3" y="1096.4" font-size="8.5" fill="#222" opacity="0.75">广州</text><text x="243.1" y="1092.8" font-size="8.5" fill="#222" opacity="0.75">香港</text><text x="209.9" y="1115" font-size="8.5" fill="#222" opacity="0.75">澳门</text><text x="301.2" y="1091.4" font-size="8" fill="#222">台湾岛</text><text x="261.9" y="1108.6" font-size="8.3" fill="#222">东沙群岛</text><text x="282.7" y="1122.7" font-size="7.5" fill="#222">东沙岛</text><text x="198" y="1142.9" font-size="9.5" fill="#222">海口</text><text x="196" y="1157.6" font-size="8" fill="#222">海南岛</text><text x="199.6" y="1179.7" font-size="8.3" fill="#222">西沙群岛</text><text x="209.3" y="1194.1" font-size="7.5" fill="#222">永兴岛</text><text x="268" y="1195.8" font-size="8.3" fill="#222">中沙群岛</text><text x="287.4" y="1211" font-size="7.5" fill="#222">黄岩岛</text><text x="234.3" y="1237.6" font-size="12" fill="#45b0dc">南</text><text x="280" y="1234.2" font-size="12" fill="#45b0dc">海</text><text x="318.8" y="1045.8" font-size="9" fill="#45b0dc">台</text><text x="305.8" y="1052.7" font-size="9" fill="#45b0dc">海</text><text x="307.2" y="1074.8" font-size="9" fill="#45b0dc">峡</text><text x="230.6 240.2 249.8 259.4" y="1296.2" font-size="8" fill="#222">南沙群岛</text><text x="202.9" y="1365.2" font-size="6.2" fill="#222">曾母暗沙</text><text x="202.6" y="1405.8" font-size="14" font-weight="500" fill="#222">南海诸岛</text><text class="mono" y="1424.5" font-size="14" fill="#222"><tspan x="188.6 195.6 202.6 209.6">1:40 </tspan><tspan x="223.6 230.6 237.6">000 </tspan><tspan x="251.6 258.6 265.6">000</tspan></text></g><rect x="101" y="1032.5" width="280" height="399.5" fill="none" stroke="#000" stroke-width="2"/><defs><linearGradient id="lg" x1="0" y1="0" x2="0" y2="1"><stop offset="0" stop-color="#1a8fe0"/><stop offset="0.45" stop-color="#0b6fc8"/><stop offset="1" stop-color="#083a98"/></linearGradient><clipPath id="lgc"><circle cx="208" cy="155" r="69.5"/></clipPath></defs><path fill="url(#lg)" fill-rule="evenodd" d="M208 85.5a69.5 69.5 0 1 0 0 139a69.5 69.5 0 1 0 0-139ZM214.6 87.8a60 60 0 1 1 0 120a60 60 0 1 1 0-120Z"/><path fill="#fff" d="M228 80 L290 80 L290 150 L276 136 Q262 104 228 88Z"/><g clip-path="url(#lgc)" stroke="url(#lg)" fill="none" stroke-linecap="round"><path d="M224.9 135.8 L203.9 112.5" stroke-width="3.0"/><path d="M224.9 135.8 Q200 138 179 135.2 Q166 133 156 131" stroke-width="3.0"/><path d="M224.9 135.8 Q210 152 193.1 162.4" stroke-width="2.6"/><path d="M224.9 135.8 Q234 152 239 169.2" stroke-width="3.6"/><path d="M224.9 135.8 Q248 128 263 113" stroke-width="1.6"/><path d="M224.9 135.8 Q231 118 234 103.4 Q234 96 232 91" stroke-width="1.4"/><path d="M203.9 112.5 Q220 106 234 103.4 Q245 102 254 102" stroke-width="1.5"/><path d="M203.9 112.5 Q198 109 194.8 107.4 Q186 102 178 98" stroke-width="1.6"/><path d="M194.8 107.4 Q204 103 209 97.8 Q214 92 216 87" stroke-width="1.5"/><path d="M190 92 Q200 96 209 97.8 Q228 100 245 96" stroke-width="1.7"/><path d="M203.9 112.5 Q185 116 164 116" stroke-width="2.2"/><path d="M203.9 112.5 Q188 122 179 135.2" stroke-width="2.0"/><path d="M179 135.2 Q170 126 163 118" stroke-width="1.4"/><path d="M179 135.2 Q170 150 167 168" stroke-width="3.0"/><path d="M179 135.2 Q186 150 193.1 162.4" stroke-width="1.8"/><path d="M167 168 Q182 166 193.1 162.4" stroke-width="3.0"/><path d="M193.1 162.4 Q199 180 198 206" stroke-width="4.5"/><path d="M167 168 Q168 180 170 190" stroke-width="3.6"/><path d="M167 168 Q160 172 158 176" stroke-width="2.0"/><path d="M239 169.2 Q243 185 242.5 200" stroke-width="4.5"/><path d="M239 169.2 Q224 185 220 207" stroke-width="2.4"/><path d="M239 169.2 Q255 158 275 151" stroke-width="3.0"/></g><g fill="url(#lg)"><circle cx="224.9" cy="135.8" r="9.6"/><circle cx="239" cy="169.2" r="5.9"/><circle cx="193.1" cy="162.4" r="4.6"/><circle cx="167" cy="168" r="4.6"/><circle cx="179" cy="135.2" r="4.0"/><circle cx="203.9" cy="112.5" r="3.2"/><circle cx="209" cy="97.8" r="2.5"/><circle cx="234" cy="103.4" r="1.8"/><circle cx="194.8" cy="107.4" r="1.7"/></g><rect x="81.5" y="60.5" width="1672" height="1391.5" fill="none" stroke="#000" stroke-width="2"/><rect x="0" y="1499" width="1840" height="1" fill="#111"/><text x="29.12" y="80.8" font-size="20.6" fill="#222">50°N</text><text x="29.12" y="275.4" font-size="20.6" fill="#222">45°N</text><text x="29.12" y="471.4" font-size="20.6" fill="#222">40°N</text><text x="29.12" y="667.7" font-size="20.6" fill="#222">35°N</text><text x="29.12" y="860.4" font-size="20.6" fill="#222">30°N</text><text x="29.12" y="1050.4" font-size="20.6" fill="#222">25°N</text><text x="29.12" y="1236.4" font-size="20.6" fill="#222">20°N</text><text x="29.12" y="1420.4" font-size="20.6" fill="#222">15°N</text><text x="232.69" y="1473" font-size="20.6" fill="#222">85°E</text><text x="417.69" y="1473" font-size="20.6" fill="#222">90°E</text><text x="600.69" y="1473" font-size="20.6" fill="#222">95°E</text><text x="775.97" y="1473" font-size="20.6" fill="#222">100°E</text><text x="955.97" y="1473" font-size="20.6" fill="#222">105°E</text><text x="1135.97" y="1473" font-size="20.6" fill="#222">110°E</text><text x="1315.97" y="1473" font-size="20.6" fill="#222">115°E</text><text x="1497.97" y="1473" font-size="20.6" fill="#222">120°E</text><text x="1683.97" y="1473" font-size="20.6" fill="#222">125°E</text><text y="203.5" font-size="56" fill="#000" x="637 693 749 804 832.5 861 917 973 1029 1085 1141">全国近96小时变温实况</text><text y="251" font-size="31" fill="#000" x="645.8 661.3 676.8 692.3 707.8 738.8 754.3 769.8 800.8 816.3 831.8 862.8 878.3 893.8 924.8 940.3 955.8 971.3 1002.3 1017.8 1033.3 1064.3 1079.8 1095.3">2025年10月16日14时-10月20日14时 <tspan x="1140.4" font-size="28">BJT</tspan></text><text x="728" y="303.5" font-size="42" fill="#000">国家气象信息中心制</text><rect x="1663" y="528.60" width="24" height="35.44" fill="#8C0023" stroke="#333" stroke-width="0.6"/><rect x="1663" y="564.04" width="24" height="35.44" fill="#BE0032" stroke="#333" stroke-width="0.6"/><rect x="1663" y="599.47" width="24" height="35.44" fill="#E60000" stroke="#333" stroke-width="0.6"/><rect x="1663" y="634.91" width="24" height="35.44" fill="#F06405" stroke="#333" stroke-width="0.6"/><rect x="1663" y="670.34" width="24" height="35.44" fill="#FA9105" stroke="#333" stroke-width="0.6"/><rect x="1663" y="705.78" width="24" height="35.44" fill="#FBE182" stroke="#333" stroke-width="0.6"/><rect x="1663" y="741.21" width="24" height="35.44" fill="#EEFCC8" stroke="#333" stroke-width="0.6"/><rect x="1663" y="776.65" width="24" height="35.44" fill="#BEFAE1" stroke="#333" stroke-width="0.6"/><rect x="1663" y="812.08" width="24" height="35.44" fill="#9BDCF5" stroke="#333" stroke-width="0.6"/><rect x="1663" y="847.52" width="24" height="35.44" fill="#78B4DC" stroke="#333" stroke-width="0.6"/><rect x="1663" y="882.95" width="24" height="35.44" fill="#0569FF" stroke="#333" stroke-width="0.6"/><rect x="1663" y="918.39" width="24" height="35.44" fill="#054BAF" stroke="#333" stroke-width="0.6"/><rect x="1663" y="953.82" width="24" height="35.44" fill="#0000FF" stroke="#333" stroke-width="0.6"/><rect x="1663" y="989.26" width="24" height="35.44" fill="#A505E6" stroke="#333" stroke-width="0.6"/><rect x="1663" y="1024.69" width="24" height="35.44" fill="#500078" stroke="#333" stroke-width="0.6"/><rect x="1663" y="1060.13" width="24" height="35.44" fill="#7D0000" stroke="#333" stroke-width="0.6"/><rect x="1663" y="1095.56" width="24" height="35.44" fill="#460000" stroke="#333" stroke-width="0.6"/><text x="1693 1703" y="571.34" font-size="19" fill="#111">10</text><text x="1693" y="606.77" font-size="19" fill="#111">8</text><text x="1693" y="642.21" font-size="19" fill="#111">6</text><text x="1693" y="677.64" font-size="19" fill="#111">4</text><text x="1693" y="713.08" font-size="19" fill="#111">2</text><text x="1693" y="748.51" font-size="19" fill="#111">1</text><text x="1694 1703" y="783.95" font-size="19" fill="#111">-1</text><text x="1694 1703" y="819.38" font-size="19" fill="#111">-2</text><text x="1694 1703" y="854.82" font-size="19" fill="#111">-4</text><text x="1694 1703" y="890.25" font-size="19" fill="#111">-6</text><text x="1694 1703" y="925.69" font-size="19" fill="#111">-8</text><text x="1694 1703 1713" y="961.12" font-size="19" fill="#111">-10</text><text x="1694 1703 1713" y="996.56" font-size="19" fill="#111">-12</text><text x="1694 1703 1713" y="1031.99" font-size="19" fill="#111">-14</text><text x="1694 1703 1713" y="1067.43" font-size="19" fill="#111">-16</text><text x="1694 1703 1713" y="1102.86" font-size="19" fill="#111">-18</text><rect x="1657" y="1247.8" width="35.4" height="5.2" fill="#C47D8C"/><text x="1699.5 1709" y="1257.2" font-size="19" fill="#111">12</text><rect x="1657" y="1277.3" width="35.4" height="5.2" fill="#F07D7D"/><text x="1699.5" y="1286.7" font-size="19" fill="#111">6</text><rect x="1657" y="1307.0" width="35.4" height="5.2" fill="#7DB4FF"/><text x="1699.5" y="1316.4" font-size="19" fill="#111">0</text><rect x="1657" y="1336.5" width="35.4" height="5.2" fill="#A07DC0"/><text x="1700.5 1709" y="1345.9" font-size="19" fill="#111">-6</text><rect x="1657" y="1365.8" width="35.4" height="5.2" fill="#9B7D7D"/><text x="1700.5 1709 1718.5" y="1375.2" font-size="19" fill="#111">-12</text><text font-size="27.5" fill="#111"><tspan x="1637 1664.5 1695" y="1445">单位:</tspan><tspan x="1703.5" y="1440" font-size="21">°</tspan><tspan x="1714" y="1445" font-size="27">C</tspan></text></svg></body></html>
